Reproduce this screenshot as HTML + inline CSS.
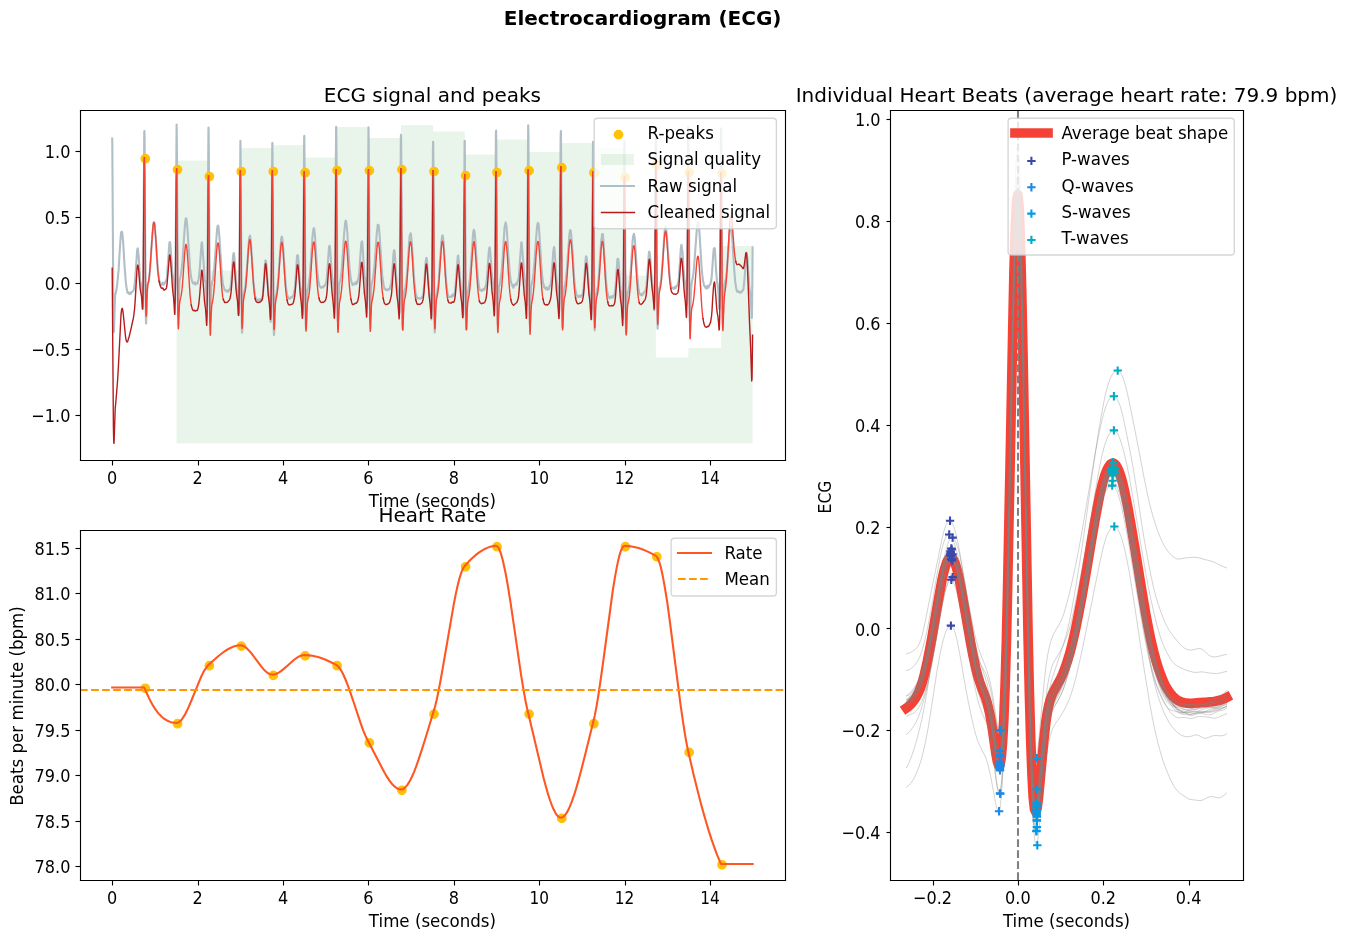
<!DOCTYPE html>
<html lang="en"><head><meta charset="utf-8"><title>Electrocardiogram (ECG)</title>
<style>
html,body{margin:0;padding:0;background:#fff}
body{width:1348px;height:941px;overflow:hidden}
svg{display:block;font-family:"DejaVu Sans","Liberation Sans",sans-serif}
</style></head><body>
<svg width="1348" height="941" viewBox="0 0 1348 941">
<rect x="0" y="0" width="1348" height="941" fill="#ffffff"/>
<path d="M80 460L785 460L785 110L80 110Z" fill="#ffffff"/>
<path d="M176.6 443.5L176.6 160.4L208.5 160.4L208.5 270.5L240.4 270.5L240.4 148L272.4 148L272.4 145.3L304.3 145.3L304.3 157.4L336.2 157.4L336.2 126.9L368.5 126.9L368.5 138.1L401 138.1L401 125.2L433.1 125.2L433.1 131.5L464.7 131.5L464.7 154.4L496.1 154.4L496.1 139.4L528.2 139.4L528.2 151.9L560.9 151.9L560.9 143.1L593 143.1L593 148L624.5 148L624.5 275.4L655.9 275.4L655.9 357.5L688.3 357.5L688.3 348L721.1 348L721.1 245.9L752.6 245.9L752.6 443.5Z" fill="#4caf50" fill-opacity="0.12"/>
<path d="M112.2 138.5L112.3 143.4L112.5 174.2L113.4 318.3L113.7 330.8L113.8 332.1L114 330.8L114.2 323.2L114.9 300.6L115.2 294.4L115.5 293.5L115.8 293.3L116 292L116.5 289L116.8 287.6L117.9 277.4L118.3 272.8L118.6 270.4L119 263.2L119.5 254.5L120.1 245.3L120.9 233.9L121.1 232.5L121.4 232L121.8 231.8L121.9 231.8L122 232L122.3 233.3L123.1 240.8L123.4 246.7L124.7 268.1L125.2 273.9L125.7 281.1L126.4 286.7L126.6 288.4L127 289.8L127.5 292.7L127.8 292.9L128.3 293L128.7 292.7L128.9 293.1L129.3 294L129.5 294L129.7 293.6L130.2 292.5L130.4 292.7L130.7 293.8L130.9 293.8L131.1 293.1L131.4 292.3L131.5 292.2L131.9 292.3L132.4 291.5L132.8 291.5L133 291.2L133.4 290.5L133.7 290.1L133.9 289.2L134.8 283.2L135.2 278.8L137.1 250.9L137.5 248.6L137.7 248.3L137.8 248.6L138 250.3L138.7 256.8L140.2 280.4L140.9 284.1L141.6 289.4L142.1 298.9L142.7 308.9L142.8 309L142.9 306.4L143.2 290.9L143.5 241.4L144.2 139.5L144.3 131.3L144.4 131L144.6 138.6L144.8 173.3L145.6 300.9L145.9 319.4L146 323.1L146.1 323.5L146.4 317L147 294.1L147.4 287L147.6 284.9L148.2 283L148.4 281.8L148.8 281.4L149.1 279.5L149.7 272.6L150.1 268.4L151.6 245.9L152.3 236L153.2 225.4L153.7 222.4L153.8 222.2L154.4 222.7L154.6 223.3L154.8 226L156.4 247L156.9 257.5L157.3 261L157.9 270.9L158.3 273.6L158.7 277L159.2 279.8L159.4 281.4L159.6 281.6L159.8 281.5L159.9 281.8L160.5 283.8L160.7 283.7L161 284.5L161.2 285.2L161.4 285L161.7 284.2L162 284.4L162.1 284.3L162.8 282.6L163 283.2L163.5 284.5L163.7 284.6L163.8 284.6L164.4 283.7L164.7 283.3L165.2 282.2L165.6 281.8L166 281L166.6 279.1L166.7 278.9L166.9 278.5L167.1 275.8L167.8 264.9L168.1 260.9L169.4 242.8L169.7 242L169.9 242.1L170.1 242.4L170.3 243.9L170.8 250.2L172 268L172.4 273.7L172.8 275.8L173.1 278.5L173.5 280.7L173.8 282.4L174 286.4L174.9 303.3L175.1 301.3L175.3 288.3L175.6 261.3L176.6 124.5L176.7 129.1L177 159.7L177.9 303.3L178.1 315.1L178.3 316.8L178.4 315.9L178.6 307.9L179.2 287.1L179.5 281.5L179.9 278.7L180.3 277.5L180.6 276.4L182.2 264.5L182.9 255.4L183.8 241.7L184.9 225.2L185.4 220.5L185.8 218.5L186.1 218.2L186.2 218.3L186.5 219.1L186.8 222L187.6 230.6L188.1 239.1L188.6 247L189.2 254.1L189.9 266.4L190.4 272L191.2 277.4L192 281L192.5 282.1L192.9 283.3L193 283.3L193.4 283.2L193.9 283.6L194.1 283.1L194.5 282.3L194.7 282.4L194.9 283.3L195.2 284.4L195.3 284.6L195.4 284.4L195.8 283L195.9 282.9L196.3 283.3L196.7 283L197 283.4L197.2 283.7L197.4 283.6L197.9 281.8L198.5 279.7L198.8 278.1L199.8 268.1L201.3 246L201.7 242.8L201.8 242.3L202 242.5L202.2 244.7L203.4 259.8L204.8 279.9L205 281.2L205.3 281.1L205.4 281.5L205.7 283.8L206.1 290.2L206.8 306.4L207 305.2L207.2 294.5L207.5 271.2L207.9 211.6L208.4 133.3L208.5 127.6L208.6 130.3L208.9 158.7L209.8 304.6L210 320L210.2 322.2L210.3 321.4L210.5 313.9L211.2 290.5L211.4 286.5L212.2 281.7L212.5 280.9L212.7 280.7L213 279.6L213.5 275.2L214.4 266.2L217.1 229.2L217.5 226.4L217.7 225.8L218.1 225.5L218.2 225.6L218.5 227L219.4 236.5L221.2 265L221.8 274.4L223 285.1L223.4 285.9L224 287.9L224.4 289.3L224.6 290.1L224.8 290.3L225 290.1L225.3 290L225.5 290.3L225.9 290.9L226 290.9L226.4 290.5L226.6 290.7L226.9 291.6L227.1 291.6L227.5 290.5L227.6 290.5L228 291.7L228.1 291.6L228.6 289.9L228.7 290L229.1 290.5L229.4 290.4L229.6 290.2L229.9 289.5L230.4 287.2L231.3 281.8L233.1 255.8L233.7 253.1L233.9 253.3L234.1 254.7L234.4 257.1L235 267.2L236.4 287.3L236.7 289.6L237.2 291.5L237.7 296.3L238 300.6L238.6 315.2L238.7 315.2L238.9 313.4L239.1 302.1L239.4 276.6L240.4 140.9L240.5 145.5L240.8 175.6L241.7 319L241.9 331.6L242.1 332.7L242.2 331.1L242.6 317.8L243.1 300.6L243.5 294.8L243.7 293.3L244.1 292.8L244.4 291.3L244.7 288.9L245 288.9L245.1 288.6L245.4 286.5L246.9 269.1L247.6 259.4L247.8 256.2L248.5 245.6L248.7 243.6L249.2 237.3L249.4 237.1L249.6 237.3L250 235.6L250.1 235.7L250.4 237.9L251.2 246.3L251.5 252.8L251.9 257.1L253.3 279.9L254 287.3L254.5 291.3L254.9 295.7L255.1 296.5L255.3 296.6L255.4 296.8L256 299L256.3 299.5L256.5 300.1L256.7 300.1L257 299.6L257.6 300.7L257.9 299.4L258.1 299.7L258.5 301.2L258.6 300.9L259 299.6L259.2 300.4L259.4 300.8L259.5 300.8L260 299.6L260.2 299.7L260.4 299.6L260.9 299L261.1 298.9L261.5 298.7L261.8 298.8L261.9 298.6L262.6 295.8L262.7 295.9L262.8 295.6L263.1 292.7L263.6 284.8L264 280.3L264.7 267.8L265.4 260.5L265.5 260.4L265.8 260.6L265.9 260.7L266 261.1L266.3 263.4L268.6 295.6L269.1 297.3L269.5 300.1L269.7 303.4L270.2 315.7L270.5 320.8L270.6 321.9L270.8 321.4L270.9 318.6L271.1 304.1L271.5 255.9L272.2 151.9L272.3 143.3L272.4 142.9L272.5 150.8L272.8 186.5L273.6 314.2L273.8 332.1L274 335.1L274.1 334.7L274.3 327.4L275 305.4L275.4 299.1L275.7 296.2L276.3 294.7L277.5 286.5L278.2 279.4L279.6 259.3L280.9 241.4L281.3 238.1L281.6 236.7L281.8 236.5L281.9 236.6L282.2 237.6L282.9 243.4L283.4 250.4L284.2 262.9L285 274.7L286 287.6L286.4 290L286.8 292.3L287.1 294.7L288.4 298.5L288.7 298.6L289.1 298.4L289.6 298.8L290.1 297.6L290.4 298L290.5 298.2L290.6 298.1L291.2 297.1L291.8 297.6L292 297.3L292.5 296.3L293 296L293.6 294.9L293.8 293.6L294.2 290.9L294.3 290.6L294.6 290.5L294.7 289.9L295 286.9L295.5 280.4L295.7 277.2L297 256.1L297.1 255.5L297.3 255.8L297.5 256.6L297.7 256.4L297.9 255.3L298 255.6L298.3 258.6L299.3 273.9L300.2 285.7L300.6 288.8L301 290.1L301.4 293.2L301.8 297.7L302.1 307L302.5 315.1L302.6 314.5L302.8 311.4L303 296.5L303.4 248.7L304.1 145.1L304.2 136.5L304.3 135.9L304.4 143.5L304.7 179.3L305.5 307.8L305.7 324.8L306 328.8L306.1 326.6L307.3 292.5L307.5 289.7L307.8 288.9L308 288.4L308.3 287.2L309.4 279.5L310.2 270.9L311.6 249.9L312.4 237.8L313.3 229.5L313.5 229.4L313.9 228.1L314 228.2L314.3 229.8L314.9 234.6L316.7 263.1L317.5 273.3L317.8 275.2L318.3 281.1L318.5 281.6L318.7 281.8L318.9 283.3L319.3 285.6L319.6 285.8L319.8 286L320.2 286.8L320.6 287.6L320.7 287.6L321.1 287.3L321.6 287.7L322.2 286.8L322.5 286.8L322.8 286.7L322.9 286.8L323.3 287.5L323.4 287.4L324 285.7L324.3 285.7L324.8 285.3L325.1 285.4L325.2 285.3L325.4 284.5L326 282.7L326.3 281.5L326.7 278.9L327.2 273.1L328.9 248.4L329.2 246.5L329.4 245.9L329.5 245.9L329.7 246L329.9 247L330.2 249.3L330.7 257.6L331.6 270.5L332 274.9L332.5 279.5L332.9 282.3L333.1 283.2L333.4 285.6L333.8 292.1L334.4 305.9L334.5 306.1L334.7 304L334.9 291.5L335.2 265.8L335.7 179.5L336.1 129.9L336.2 126.8L336.3 131.8L336.6 163L337.5 308.4L337.7 320.7L337.9 321.9L338 320.5L338.4 307.9L338.9 291.3L339.3 284.4L339.5 282.7L340.1 281.3L340.6 278.3L341.3 273L341.6 270.7L342.6 256.3L343.1 250.1L343.5 243.6L344 235L345.2 222.4L345.6 220.7L345.7 220.6L345.9 220.9L346.2 221.8L346.5 223.8L347.4 233.5L348 244.7L348.4 249.9L349.5 268.1L350 272.5L350.7 277.7L351.1 279.7L351.5 282.1L351.7 282.4L351.8 282.5L352.1 283.6L352.5 285.1L352.6 285L353.1 284.1L353.6 283.9L354.1 284.5L354.4 283.8L354.7 283.1L354.8 283.1L355.2 283.5L355.4 282.8L355.7 282.4L355.9 283.3L356.2 284.2L356.3 283.9L356.8 281.6L357.1 282.5L357.2 282.9L357.3 282.9L357.6 281.7L358 279.6L358.5 278L359 274.4L359.4 270.3L360.4 255.3L361.1 245.7L361.4 242.9L361.8 241.6L362 241.4L362.1 241.4L362.2 241.9L362.5 244.8L363.4 259.9L364.5 275.4L364.9 277.6L365.2 278.8L365.7 283.4L365.9 286.7L366.3 296.1L366.7 303.8L366.8 303.5L367 301.2L367.2 288.5L367.5 261.9L368.5 127.4L368.6 132L368.9 161.8L369.8 305L370 319.9L370.2 321.9L370.3 320.8L370.5 312.4L371.2 290L371.6 284.5L371.9 282.9L373 278.5L374.4 267L376.2 241.8L376.8 232.5L377.7 224.8L377.8 225L378.1 225.4L378.2 225.3L378.5 224.9L378.6 225.1L378.9 227L379.8 237.9L382.2 275.3L382.6 278.2L382.8 279.5L383.6 285.2L383.7 285.4L384 286.6L384.4 288.7L384.5 288.7L384.8 288.5L384.9 288.6L385.4 289.5L385.7 289.7L386 290.1L386.3 289.9L386.6 289.6L387.2 289.8L387.4 289.8L387.7 290.1L387.8 290.1L388.1 289.6L388.3 289.1L388.5 289.1L388.9 289.5L389.2 289.4L389.5 289.3L389.8 288.7L390.5 285.4L390.8 285.4L390.9 285.3L391.2 284.3L391.5 281.1L392.1 274.5L393.5 253.8L394 250.6L394.2 250.1L394.4 250.5L394.6 252.4L395 257L396.9 284.8L398.2 293.2L398.6 301.1L399.1 312.5L399.2 313.6L399.4 313.2L399.5 310.5L399.7 295.4L400.1 244.7L400.8 142.5L400.9 134.9L401 135L401.2 143L401.4 178.3L402.2 306.8L402.4 325L402.6 328.5L402.7 328.9L402.8 326.9L403.2 312.6L403.6 299L404 293.7L404.4 290.9L404.6 290.1L404.9 289.7L405.3 287.9L405.8 285L406.4 279.8L406.7 277.5L407.3 268.8L407.6 266L409.1 242.1L409.7 235.7L410 234.9L410.3 234.3L410.6 233.2L410.8 233.5L411 235L411.7 241L412.3 249.8L414.2 280.5L414.6 283.7L414.9 285.7L415.5 292.5L416 294.4L416.4 296L416.8 296.8L417.2 298L417.6 298.4L417.8 298.5L417.9 298.5L418.6 298L419 298.1L419.2 298.2L419.6 298.7L419.9 298.6L420.1 298.5L420.5 298.4L421 297.9L421.4 298.1L421.7 297.6L422 296.8L422.4 296.5L422.9 295.3L423.2 294.2L423.6 291.2L424.1 285.6L425 272.8L425.6 262.5L426 259.3L426.4 257.7L426.5 257.7L426.6 258L426.9 259.8L427.3 265.4L428.2 278.7L429 290.2L429.3 293L429.7 295.1L430.5 301.6L430.7 306.3L431.3 318.7L431.4 319.4L431.5 318.2L431.8 309.6L432 289.7L432.4 232L432.9 149.7L433.1 141.8L433.2 141.8L433.3 149.5L433.6 184.8L434.3 313.1L434.6 329.5L434.7 332.4L434.8 332.3L435.1 325.7L435.7 302.5L436.1 296.2L436.4 294.6L436.8 293.6L437.7 289L438.2 284.8L438.4 283.5L438.7 281.1L439.8 263.9L441.4 241.8L441.8 238.1L442.1 236.1L442.4 235.4L442.5 235.3L442.8 236L443.3 239L443.7 243.6L445.5 271.7L446.1 280.3L447.1 290.3L447.8 294.6L448.3 295.8L448.7 296.9L449.2 296.8L449.6 297.1L449.8 296.9L450.1 296.6L450.3 296.7L450.9 296.9L451.8 296.7L452 295.8L452.3 294.7L452.4 294.6L452.7 295.4L452.9 296.1L453 296.1L453.4 295.5L453.8 295.6L454.1 295L454.7 292.9L455.7 284.4L457.4 260.3L457.9 255.9L458 255.6L458.2 255.9L458.4 257.4L458.8 261.4L459.6 272.7L460.1 279.8L460.5 284.4L461 291.6L461.1 291.8L461.4 291L461.5 291.2L461.7 294L462.6 310.2L462.9 315L463 315.2L463.2 313L463.4 299.4L463.7 271.6L464.6 141.1L464.7 140.8L464.8 148.5L465.1 183.7L465.8 310.7L466.1 327L466.2 329.4L466.4 328.7L466.6 321.5L467.4 295.1L467.6 292L467.9 291.2L468.2 290.2L468.8 286.7L469 285.5L469.8 278.8L470.5 271.6L471.2 260.7L473.1 233.6L473.5 230.7L473.8 229.9L473.9 229.8L474 229.9L474.3 230.6L474.6 232.2L475.2 238.6L475.7 245.8L477.4 271.5L477.9 277.5L478.9 286.3L479.7 289.7L479.9 290.2L480.2 290L480.4 290L481.3 290.8L481.6 291L481.7 290.9L482.1 289.6L482.2 289.6L482.6 290.2L482.9 289.7L483.1 289.3L483.5 290.1L483.7 289.9L484 288.7L484.2 288.8L484.4 289.5L484.5 289.6L484.8 288.6L485.2 287L486 285.3L486.2 284.1L487.1 276.2L488.1 261.1L488.8 251.2L489.2 248.7L489.5 247.4L489.7 247.5L489.8 247.9L490.1 250.1L491.1 262.8L491.6 271.9L492.6 281.5L493.3 284.9L493.6 291.1L494.3 305.1L494.4 305.8L494.5 304.4L494.8 293.1L495.1 268.1L495.6 183.2L495.9 133.4L496.1 130.5L496.2 135.7L496.5 167.2L497.4 310.8L497.6 323.2L497.7 324.1L497.9 322.6L498.3 309.9L498.8 292.1L499 287.4L499.3 285.7L499.7 285.1L500 282.9L500.8 278.3L501.3 273.4L501.6 271.8L502 266.9L504.5 228L504.8 226.1L505.2 224.4L505.6 222.4L505.7 222.5L506.3 225.5L506.6 227.8L507.6 241.6L508.2 252.9L509.8 273.4L510.2 276.2L510.7 281.1L511.6 283.8L511.8 284.5L512.2 286L512.3 285.9L512.7 284.5L512.9 284.9L513.2 287.6L513.4 287.7L513.9 285.3L514.3 286.2L514.4 286.1L514.8 285.3L515 285.1L515.4 284.1L515.5 284.2L515.8 284.9L515.9 284.9L516.2 283.7L516.4 283L516.8 284.4L517 284.1L517.5 281.2L517.7 281.6L517.9 281.4L518.8 277.2L521.2 243.3L521.4 242.2L521.6 242.4L521.8 244L522.3 249.5L524.3 276L525 281.1L525.3 282.1L525.5 284.8L525.9 293.6L526.4 305.8L526.6 305.4L526.7 302.8L526.9 289.2L527.2 262.9L528.2 125.3L528.4 130.2L528.6 161.1L529.5 308L529.8 322.8L529.9 324.5L530 323L530.4 309.4L530.9 292.5L531.3 285.8L531.6 284.7L531.8 283.8L532.3 281.2L532.6 280.4L533.6 272.7L534.3 263.4L534.5 261.3L534.9 255.8L536.6 231.8L537.2 225.4L537.7 223.1L537.8 222.9L538 222.9L538.4 223.6L538.6 224.5L538.9 227.1L540.7 254.9L541.4 266.9L542.2 276.1L543.1 283.3L543.5 284L544.1 287L544.4 287.2L544.9 288.2L545.3 288.1L545.8 289.1L546.3 287.4L546.5 288.4L546.8 289.3L546.9 289.2L547.2 288.8L547.3 288.9L547.7 289.7L547.8 289.4L548.3 287.7L548.5 287.8L548.9 288.9L549 288.8L549.2 287.7L549.6 285.8L549.8 285.7L550 286.1L550.1 286.1L550.4 284.9L550.8 283L551 281.9L551.3 279.6L552.7 260.3L553.2 252.2L553.9 248L554.1 247L554.2 247.3L554.5 249.6L555.5 263L556.5 279L557.1 283.6L557.6 287.2L558.2 293.1L558.6 302.9L559 311.1L559.1 311.4L559.2 310.1L559.5 301.2L559.7 279.7L560.1 220.7L560.6 139.6L560.8 131.3L560.9 131L561 138.9L561.3 174.5L562 304.9L562.3 324.1L562.4 327.3L562.6 327L562.8 320.1L563.6 293.7L563.8 290.1L564.6 285.8L564.7 285.7L565 286L565.1 285.6L565.5 282.2L566.9 269.2L569.4 234.3L569.7 232.2L570.1 230.1L570.2 230L570.5 230.4L570.8 231L571 232.6L571.9 241.2L573.1 260.7L574 275.3L574.3 280.1L574.9 285.1L575.2 288.4L576.3 293.7L576.9 295.3L577.3 296L577.7 296.6L578.2 297L578.4 296.6L578.7 296.1L578.8 296.3L579.1 296.9L579.2 296.9L579.5 296.1L579.7 295.6L580.4 296.5L580.5 296.5L580.9 296.7L581.1 295.9L581.4 295.1L581.5 295.2L581.8 295.9L581.9 295.9L582.7 294L583.2 290.2L583.4 290L583.6 289.3L583.8 285.6L584.2 279.7L584.6 275.6L585.2 265L585.6 260L585.9 256.8L586 256.3L586.1 256.3L586.6 257.3L586.9 259.6L589.1 289.7L590.2 298.2L590.6 305.4L591.3 319.4L591.4 319.6L591.5 317.4L591.8 304.1L592 277.5L593 141.8L593.2 146.9L593.4 177.9L594.3 318.6L594.6 329.6L594.7 330.4L594.8 328.7L595.2 314.5L595.6 301.1L596 294.6L596.3 293.1L596.6 292.7L596.9 291.1L597.3 288.5L597.7 287.9L597.9 286.3L598.8 276.3L599.8 262.3L600.7 247.7L601.2 240.8L601.8 236.7L602 234.6L602.1 234.2L602.5 234.6L602.8 234.2L602.9 234.3L603 235L603.4 240.2L604.8 261.5L605.6 275.2L606.8 289.1L607 290.9L607.4 291.8L608.3 296.4L608.5 296.9L609.1 298.1L609.2 298.1L609.4 297.5L609.7 296.9L609.8 296.9L610.1 297.6L610.3 298.2L610.5 298.1L610.7 297.3L611 296.5L611.1 296.3L611.2 296.5L611.6 297.2L611.8 297.2L612.3 296.4L612.5 297.1L612.8 297.6L612.9 297.4L613.4 295.9L613.8 295.9L614.1 295.5L614.6 294.1L615 291.9L615.5 287.6L616 280.7L617.4 259.8L617.6 258.7L618 259L618.2 259L618.3 259.2L618.4 259.8L618.7 262.7L620.6 290.8L620.8 291.4L621 291.5L621.1 291.9L621.4 294.4L622.1 304.2L622.8 318.5L622.9 317.7L623 314.3L623.3 298.3L623.7 248.5L624.3 147.6L624.4 141.1L624.6 143.3L624.8 171.3L625.7 317.8L626 331.5L626.1 332.9L626.2 331.5L626.6 318L627.1 300.9L627.5 293.6L627.8 291.9L627.9 292L628.1 292.4L628.3 291.9L628.9 287.9L629.2 286.9L629.6 283.3L630.7 270.1L632.6 240.9L633.1 236L633.9 233.8L634 233.9L634.4 236L634.7 237.6L634.9 240.8L635.6 249.7L636 256.2L636.5 264.4L636.9 270.2L637.4 277.9L638.3 287.1L639.4 293.9L639.7 294.4L640.1 293.9L640.2 294.1L640.7 295.1L641.2 295.2L641.3 295.1L641.9 293.9L642.4 295.2L642.6 294.2L642.9 293.2L643 293.2L643.4 293.6L643.6 293.3L644 292.5L645.3 291.1L645.7 289.5L646.5 285.7L647.7 269.7L648.8 254L649 251.9L649.3 251.6L649.5 252L649.8 253L650.1 255.3L650.6 263.7L651.2 272.6L652 282.6L652.7 287.3L653.1 290.2L653.4 291.9L653.6 296.8L654.2 310.2L654.3 310.3L654.4 308.3L654.7 297L654.9 272.8L655.4 187.6L655.8 140.5L655.9 137.5L656.1 141.8L656.3 171.2L657.2 313L657.5 326.5L657.6 328.6L657.7 328L658 320.6L658.6 297.5L659 290.3L659.3 288.7L660 286.1L660.2 285.7L660.4 284L660.8 281.3L661.1 280.6L661.3 278.2L662 269L662.4 264L664.7 230.2L665.3 226.4L665.4 226.3L665.8 226.7L665.9 227L666.2 228.5L667.1 238.4L669.5 274.2L670 279.9L670.8 284.5L671.4 287.1L671.8 287.8L672.2 287.9L672.5 288L673 288.6L673.5 288.2L673.9 288.9L674 288.7L674.4 287L674.5 287.1L674.9 288.5L675 288.3L675.4 286.8L675.7 287.7L675.8 288.1L675.9 288L676.4 286L676.8 286.5L677.3 284.9L677.6 285.1L677.7 284.9L678.7 279.6L679.9 262.9L680.7 249.9L681.1 246.3L681.3 245L681.4 244.9L681.6 245.2L681.8 247.1L682.2 250L682.5 251.4L682.7 254.7L683.5 268.4L684.4 278.4L685.4 284.9L685.7 288.6L686.6 304.9L686.7 303.2L686.9 291.7L687.2 267.9L687.6 208.6L688.1 132.2L688.2 126.9L688.4 129.5L688.6 155.7L689.6 313.1L689.9 322.5L690 322.5L690.3 316.5L691 290.9L691.4 285L691.8 282.1L692.7 278L693.6 272L694 268L696.3 236.2L697.1 226L697.4 223.6L698 221.9L698.1 221.8L698.2 222L698.5 223.2L699 227.1L699.4 231.8L700.3 246.4L701.5 266L702.3 275.3L702.7 278L703.1 281.3L703.6 283.2L704 285.6L704.2 285.9L704.4 285.9L704.9 286.7L705 286.7L705.1 286.8L705.6 288.1L706 286.5L706.2 286.6L706.5 288.7L706.7 288.4L707.1 286.1L707.2 286.1L707.4 286.8L707.6 286.7L708 285.8L708.2 287L708.5 287.7L708.7 286.6L709 285.8L709.4 285.6L709.9 284.5L710.1 284.6L710.3 284.5L710.5 283.6L711.3 280L711.8 275.6L712.4 267L713.3 253.6L713.8 248.6L714 248.2L714.1 248.2L714.2 248.3L714.6 248L714.7 248.5L715 251.7L716 268.8L717 282.1L717.3 283.4L717.6 284.4L718.2 289.4L718.5 293.2L719.2 308.1L719.4 309.1L719.5 308.5L719.6 305.5L719.9 289.4L720.3 238.3L720.9 136.7L721 128.6L721.1 128.2L721.3 135.9L721.5 171.2L722.3 300L722.6 318.8L722.8 323.1L722.9 321.1L723.5 302.6L724 288.5L724.2 285.4L724.5 284.7L724.6 284.6L724.7 284.4L725 283.1L725.5 280.2L725.9 279.2L726.1 277.6L726.7 271.9L727.7 258.9L729.5 233.2L730.1 226.6L730.2 226.4L730.5 226.4L730.9 225.9L731 226.2L731.4 228.4L731.8 231.3L732.2 237.6L732.8 247.5L734.5 273.3L735.2 281.6L735.5 283.2L736 287.5L736.6 289.7L737 291.6L737.2 291.6L737.5 291L737.7 291.1L738.1 292L738.2 292L738.6 291.4L738.7 291.5L739.1 292.3L739.2 292.2L739.5 291.9L739.6 292L740 292.8L740.1 292.7L740.5 291.9L740.7 292.3L741 292.5L741.4 291.9L741.8 292L742 291.4L742.3 290.6L742.5 290.4L742.8 290.4L743.1 290.1L743.3 289.4L743.6 287.7L744.5 279.2L746 256.9L746.5 252.9L746.6 252.7L746.9 254.1L747.5 258.9L749.2 286L750.5 295.5L750.9 301.6L751.8 318L751.9 316.7L752.1 305.5L752.4 279.7L752.6 247.4L752.6 247.4" fill="none" stroke="#b0bec5" stroke-width="2.083" stroke-linecap="square" stroke-linejoin="round"/>
<path d="M112.5 460.5L112.5 465.5" fill="#000000" stroke="#000000" stroke-width="1.111" stroke-linejoin="round"/>
<text font-size="16.67" text-anchor="middle" transform="translate(112.2 483.7) scale(0.965 1.08)">0</text>
<path d="M198.5 460.5L198.5 465.5" fill="#000000" stroke="#000000" stroke-width="1.111" stroke-linejoin="round"/>
<text font-size="16.67" text-anchor="middle" transform="translate(197.6 483.7) scale(0.965 1.08)">2</text>
<path d="M283.5 460.5L283.5 465.5" fill="#000000" stroke="#000000" stroke-width="1.111" stroke-linejoin="round"/>
<text font-size="16.67" text-anchor="middle" transform="translate(283 483.7) scale(0.965 1.08)">4</text>
<path d="M368.5 460.5L368.5 465.5" fill="#000000" stroke="#000000" stroke-width="1.111" stroke-linejoin="round"/>
<text font-size="16.67" text-anchor="middle" transform="translate(368.4 483.7) scale(0.965 1.08)">6</text>
<path d="M454.5 460.5L454.5 465.5" fill="#000000" stroke="#000000" stroke-width="1.111" stroke-linejoin="round"/>
<text font-size="16.67" text-anchor="middle" transform="translate(453.8 483.7) scale(0.965 1.08)">8</text>
<path d="M539.5 460.5L539.5 465.5" fill="#000000" stroke="#000000" stroke-width="1.111" stroke-linejoin="round"/>
<text font-size="16.67" text-anchor="middle" transform="translate(539.2 483.7) scale(0.92 1.08)">10</text>
<path d="M625.5 460.5L625.5 465.5" fill="#000000" stroke="#000000" stroke-width="1.111" stroke-linejoin="round"/>
<text font-size="16.67" text-anchor="middle" transform="translate(624.6 483.7) scale(0.92 1.08)">12</text>
<path d="M710.5 460.5L710.5 465.5" fill="#000000" stroke="#000000" stroke-width="1.111" stroke-linejoin="round"/>
<text font-size="16.67" text-anchor="middle" transform="translate(710 483.7) scale(0.92 1.08)">14</text>
<text font-size="16.67" text-anchor="middle" transform="translate(432.4 507.3) scale(1 1.08)">Time (seconds)</text>
<path d="M80.5 415.5L75.5 415.5" fill="#000000" stroke="#000000" stroke-width="1.111" stroke-linejoin="round"/>
<text font-size="16.67" text-anchor="end" transform="translate(70.4 421.7) scale(0.965 1.08)">−1.0</text>
<path d="M80.5 349.5L75.5 349.5" fill="#000000" stroke="#000000" stroke-width="1.111" stroke-linejoin="round"/>
<text font-size="16.67" text-anchor="end" transform="translate(70.4 355.7) scale(0.965 1.08)">−0.5</text>
<path d="M80.5 283.5L75.5 283.5" fill="#000000" stroke="#000000" stroke-width="1.111" stroke-linejoin="round"/>
<text font-size="16.67" text-anchor="end" transform="translate(70.4 289.7) scale(0.965 1.08)">0.0</text>
<path d="M80.5 217.5L75.5 217.5" fill="#000000" stroke="#000000" stroke-width="1.111" stroke-linejoin="round"/>
<text font-size="16.67" text-anchor="end" transform="translate(70.4 223.7) scale(0.965 1.08)">0.5</text>
<path d="M80.5 151.5L75.5 151.5" fill="#000000" stroke="#000000" stroke-width="1.111" stroke-linejoin="round"/>
<text font-size="16.67" text-anchor="end" transform="translate(70.4 157.7) scale(0.965 1.08)">1.0</text>
<circle cx="145.3" cy="158.7" r="4.17" fill="#ffc107" stroke="#ffc107" stroke-width="1.389" stroke-linejoin="round"/>
<circle cx="177.5" cy="169.6" r="4.17" fill="#ffc107" stroke="#ffc107" stroke-width="1.389" stroke-linejoin="round"/>
<circle cx="209.4" cy="176.5" r="4.17" fill="#ffc107" stroke="#ffc107" stroke-width="1.389" stroke-linejoin="round"/>
<circle cx="241.3" cy="171.5" r="4.17" fill="#ffc107" stroke="#ffc107" stroke-width="1.389" stroke-linejoin="round"/>
<circle cx="273.3" cy="171.5" r="4.17" fill="#ffc107" stroke="#ffc107" stroke-width="1.389" stroke-linejoin="round"/>
<circle cx="305.2" cy="172.7" r="4.17" fill="#ffc107" stroke="#ffc107" stroke-width="1.389" stroke-linejoin="round"/>
<circle cx="337.1" cy="170.5" r="4.17" fill="#ffc107" stroke="#ffc107" stroke-width="1.389" stroke-linejoin="round"/>
<circle cx="369.4" cy="170.6" r="4.17" fill="#ffc107" stroke="#ffc107" stroke-width="1.389" stroke-linejoin="round"/>
<circle cx="401.9" cy="169.6" r="4.17" fill="#ffc107" stroke="#ffc107" stroke-width="1.389" stroke-linejoin="round"/>
<circle cx="434" cy="171.5" r="4.17" fill="#ffc107" stroke="#ffc107" stroke-width="1.389" stroke-linejoin="round"/>
<circle cx="465.6" cy="175.6" r="4.17" fill="#ffc107" stroke="#ffc107" stroke-width="1.389" stroke-linejoin="round"/>
<circle cx="497" cy="172.5" r="4.17" fill="#ffc107" stroke="#ffc107" stroke-width="1.389" stroke-linejoin="round"/>
<circle cx="529.1" cy="170.6" r="4.17" fill="#ffc107" stroke="#ffc107" stroke-width="1.389" stroke-linejoin="round"/>
<circle cx="561.8" cy="167.7" r="4.17" fill="#ffc107" stroke="#ffc107" stroke-width="1.389" stroke-linejoin="round"/>
<circle cx="593.9" cy="172.7" r="4.17" fill="#ffc107" stroke="#ffc107" stroke-width="1.389" stroke-linejoin="round"/>
<circle cx="625.4" cy="177.5" r="4.17" fill="#ffc107" stroke="#ffc107" stroke-width="1.389" stroke-linejoin="round"/>
<circle cx="656.8" cy="164.8" r="4.17" fill="#ffc107" stroke="#ffc107" stroke-width="1.389" stroke-linejoin="round"/>
<circle cx="689.2" cy="172.5" r="4.17" fill="#ffc107" stroke="#ffc107" stroke-width="1.389" stroke-linejoin="round"/>
<circle cx="722" cy="173.6" r="4.17" fill="#ffc107" stroke="#ffc107" stroke-width="1.389" stroke-linejoin="round"/>
<path d="M80.5 460.5L80.5 110.5" fill="none" stroke="#000000" stroke-width="1.111" stroke-linecap="square"/>
<path d="M785.5 460.5L785.5 110.5" fill="none" stroke="#000000" stroke-width="1.111" stroke-linecap="square"/>
<path d="M80.5 460.5L785.5 460.5" fill="none" stroke="#000000" stroke-width="1.111" stroke-linecap="square"/>
<path d="M80.5 110.5L785.5 110.5" fill="none" stroke="#000000" stroke-width="1.111" stroke-linecap="square"/>
<path d="M112.2 268.2L112.8 349.1L113.4 427.1L113.7 440.6L113.8 443.1L114 443.3L114.2 438.5L115.2 408.6L115.8 402.2L116.8 390.8L117.7 378.7L118.6 363L121 314.9L121.5 310.4L121.9 308.7L122.2 308.3L122.3 308.4L122.5 309L122.9 311L123.4 315.4L125.6 337.2L126.1 340.1L126.5 341.3L126.9 341.9L127.2 342L127.4 341.9L127.7 341.6L128 340.4L129.1 336.7L129.6 334.8L130.5 331L131.1 328.4L132.5 322L133.4 317.9L133.9 314.5L134.6 308.6L135.2 300.4L136.1 284.9L137 269.8L137.4 266.3L137.7 265.2L137.8 265.1L137.9 265.2L138.2 266.3L138.6 269.4L139.2 277.3L140.1 288.1L140.6 291.7L141.4 295.7L141.8 299.7L142.5 309L142.7 308.2L142.9 300.9L143.2 283.7L143.5 239.4L144.2 163.9L144.4 157.9L144.4 157.9" fill="none" stroke="#b71c1c" stroke-width="1.389" stroke-linecap="square" stroke-linejoin="round"/>
<path d="M144.4 157.9L144.5 161.3L144.7 169.7L144.8 182.5L144.9 198.6L145 216.7L145.2 235.6L145.3 254.1L145.4 271.1L145.6 285.7L145.7 297.6L145.8 306.5L145.9 312.4L146.1 315.6L146.2 316.3L146.3 315.2L146.5 312.7L146.6 309.4L146.7 305.6L146.8 301.8L147 298.2L147.1 295.1L147.2 292.3L147.3 290.1L147.5 288.3L147.6 286.9L147.7 285.7L147.9 284.8L148 284.1L148.1 283.5L148.2 282.9L148.4 282.4L148.5 281.8L148.6 281.2L148.8 280.5L148.9 279.7L149 278.7L149.1 277.6L149.3 276.5L149.4 275.2L149.5 273.8L149.7 272.5L149.8 271.1L149.9 269.6L150 268.1L150.2 266.5L150.3 264.9L150.4 263.1L150.6 261.4L150.7 259.5L150.8 257.7L150.9 255.8L151.1 253.8L151.2 251.9L151.3 249.9L151.4 247.9L151.6 245.9L151.7 243.9L151.8 241.9L152 239.9L152.1 238L152.2 236.2L152.3 234.5L152.5 232.8L152.6 231.2L152.7 229.7L152.9 228.3L153 227L153.1 225.9L153.2 224.9L153.4 224.1L153.5 223.5L153.6 223L153.8 222.7L153.9 222.5L154 222.5L154.1 222.7L154.3 223L154.4 223.5L154.5 224.2L154.7 225.2L154.8 226.3L154.9 227.6L155 229.1L155.2 230.7L155.3 232.3L155.4 234L155.5 235.6L155.7 237.3L155.8 239.1L155.9 241L156.1 243L156.2 245.1L156.3 247.4L156.4 249.7L156.6 251.9L156.7 254.2L156.8 256.3L157 258.3L157.1 260.2L157.2 262.1L157.3 263.9L157.5 265.7L157.6 267.4L157.7 269.1L157.9 270.7L158 272.1L158.1 273.4L158.2 274.6L158.4 275.7L158.5 276.8L158.6 277.7L158.8 278.7L158.9 279.6L159 280.4L159.1 281.2" fill="none" stroke="#f44336" stroke-width="1.389" stroke-linecap="square" stroke-linejoin="round"/>
<path d="M159.1 281.2L159.6 283.6L160.5 286.5L161.1 287.7L161.4 288.2L161.7 288.3L162.1 288.1L162.6 287.9L162.8 288.1L163.2 288.9L163.7 289.9L164 290.1L164.4 290L165.7 289.1L166.2 288.4L166.6 287.4L166.8 286.1L167.2 282.4L169.4 256L169.6 254.9L169.8 254.8L169.9 254.9L170.2 256.1L170.5 259.7L171.2 268.9L172.5 288.1L173.1 293.6L173.6 298L174 303.4L174.6 314L174.8 314.4L174.9 313.3L175.1 305L175.4 286.7L175.9 224.2L176.3 180L176.6 168.7L176.6 168.8L176.6 168.8" fill="none" stroke="#b71c1c" stroke-width="1.389" stroke-linecap="square" stroke-linejoin="round"/>
<path d="M176.6 168.8L176.7 172.5L176.9 181.2L177 194.2L177.1 210.6L177.2 229.1L177.4 248.2L177.5 266.8L177.6 283.9L177.8 298.5L177.9 310.3L178 319.1L178.1 324.9L178.3 328.1L178.4 328.8L178.5 327.8L178.6 325.4L178.8 322.1L178.9 318.5L179 314.8L179.2 311.4L179.3 308.5L179.4 306.1L179.5 304.2L179.7 302.8L179.8 301.8L179.9 301L180.1 300.3L180.2 299.8L180.3 299.3L180.4 298.8L180.6 298.2L180.7 297.7L180.8 297.1L181 296.4L181.1 295.8L181.2 295.1L181.3 294.3L181.5 293.5L181.6 292.7L181.7 291.8L181.9 290.8L182 289.7L182.1 288.5L182.2 287.2L182.4 285.8L182.5 284.3L182.6 282.7L182.7 281L182.9 279.3L183 277.5L183.1 275.7L183.3 273.9L183.4 272L183.5 270.1L183.6 268.2L183.8 266.3L183.9 264.4L184 262.5L184.2 260.6L184.3 258.8L184.4 257.1L184.5 255.4L184.7 253.7L184.8 252.2L184.9 250.7L185.1 249.4L185.2 248.2L185.3 247.2L185.4 246.3L185.6 245.6L185.7 245L185.8 244.6L185.9 244.4L186.1 244.4L186.2 244.6L186.3 245L186.5 245.6L186.6 246.4L186.7 247.3L186.8 248.4L187 249.6L187.1 250.9L187.2 252.4L187.4 253.9L187.5 255.6L187.6 257.4L187.7 259.3L187.9 261.2L188 263.3L188.1 265.3L188.3 267.4L188.4 269.4L188.5 271.4L188.6 273.4L188.8 275.3L188.9 277.2L189 279.2L189.2 281.2L189.3 283.2L189.4 285.2L189.5 287.2L189.7 289.2L189.8 291.1L189.9 292.8L190 294.4L190.2 295.9L190.3 297.3L190.4 298.6L190.6 299.7L190.7 300.8L190.8 301.8L190.9 302.7L191.1 303.5L191.2 304.3L191.3 305.1" fill="none" stroke="#f44336" stroke-width="1.389" stroke-linecap="square" stroke-linejoin="round"/>
<path d="M191.3 305.1L192 308L192.6 309.7L193.1 310.5L193.5 310.7L193.8 310.7L194.5 310.3L194.8 310.5L195.3 311.1L195.6 311L196.2 310.5L196.6 310.5L197.1 310.5L197.4 310.2L197.7 309.3L198.2 307.4L198.6 305.3L199.1 301.1L199.8 294L201.6 270.8L201.8 270.1L202 270.2L202.2 271.5L202.6 275.3L203.5 287.3L204.5 301.2L205 305.1L205.5 308.4L205.9 313.6L206.6 325L206.7 325.4L206.8 324.2L207.1 315.5L207.3 296.8L207.9 233.4L208.2 187.7L208.5 175.7L208.5 175.7L208.5 175.7" fill="none" stroke="#b71c1c" stroke-width="1.389" stroke-linecap="square" stroke-linejoin="round"/>
<path d="M208.5 175.7L208.7 179.4L208.8 188.2L208.9 201.3L209.1 217.8L209.2 236.2L209.3 255.3L209.4 273.8L209.6 290.8L209.7 305.3L209.8 317.1L209.9 325.8L210.1 331.6L210.2 334.6L210.3 335.2L210.5 334L210.6 331.4L210.7 328L210.8 324.2L211 320.4L211.1 316.8L211.2 313.7L211.4 311.1L211.5 309.1L211.6 307.4L211.7 306.1L211.9 305L212 304.1L212.1 303.4L212.3 302.7L212.4 302.1L212.5 301.5L212.6 301L212.8 300.3L212.9 299.7L213 298.9L213.1 298L213.3 296.9L213.4 295.8L213.5 294.7L213.7 293.4L213.8 292.1L213.9 290.7L214 289.3L214.2 287.8L214.3 286.2L214.4 284.6L214.6 282.9L214.7 281.2L214.8 279.4L214.9 277.5L215.1 275.7L215.2 273.8L215.3 271.8L215.5 269.8L215.6 267.8L215.7 265.8L215.8 263.8L216 261.7L216.1 259.7L216.2 257.7L216.4 255.8L216.5 253.9L216.6 252.2L216.7 250.6L216.9 249.2L217 247.9L217.1 246.7L217.2 245.8L217.4 244.9L217.5 244.2L217.6 243.7L217.8 243.3L217.9 243.1L218 243L218.1 243.2L218.3 243.5L218.4 244L218.5 244.7L218.7 245.6L218.8 246.6L218.9 247.8L219 249.1L219.2 250.5L219.3 252L219.4 253.7L219.6 255.4L219.7 257.2L219.8 259.1L219.9 261.1L220.1 263L220.2 265.1L220.3 267.1L220.5 269.1L220.6 271L220.7 273L220.8 274.9L221 276.8L221.1 278.7L221.2 280.6L221.3 282.4L221.5 284.2L221.6 285.9L221.7 287.5L221.9 289L222 290.4L222.1 291.8L222.2 293L222.4 294.2L222.5 295.3L222.6 296.3L222.8 297.2L222.9 297.9L223 298.4L223.1 298.9L223.3 299.3" fill="none" stroke="#f44336" stroke-width="1.389" stroke-linecap="square" stroke-linejoin="round"/>
<path d="M223.3 299.3L224.4 302L224.8 302.5L225.2 302.5L227 302.4L228.1 301.5L229 300.4L229.4 300L229.7 299.5L230.1 298.1L230.7 294.8L231.1 291.9L231.6 286L232.5 272.6L233 265.6L233.4 262.7L233.6 262L233.8 262L233.9 262.2L234.2 263.6L234.5 267.5L235.3 279.2L236.1 289.9L236.6 294.6L237.5 301L237.9 306.4L238.4 314.6L238.5 315.4L238.6 314.8L238.8 312.6L239 301.6L239.4 265.9L240.2 176.5L240.4 170.7L240.4 170.7" fill="none" stroke="#b71c1c" stroke-width="1.389" stroke-linecap="square" stroke-linejoin="round"/>
<path d="M240.4 170.7L240.5 174.1L240.6 182.5L240.8 195.2L240.9 211.2L241 229.2L241.2 248.1L241.3 266.5L241.4 283.5L241.5 298.2L241.7 310L241.8 318.9L241.9 324.7L242.1 327.8L242.2 328.5L242.3 327.4L242.4 324.9L242.6 321.6L242.7 317.8L242.8 314L243 310.4L243.1 307.2L243.2 304.5L243.3 302.3L243.5 300.6L243.6 299.3L243.7 298.2L243.9 297.5L244 296.8L244.1 296.2L244.2 295.6L244.4 295L244.5 294.4L244.6 293.8L244.7 293.2L244.9 292.6L245 292L245.1 291.3L245.3 290.5L245.4 289.6L245.5 288.6L245.6 287.5L245.8 286.2L245.9 284.9L246 283.5L246.2 282L246.3 280.4L246.4 278.8L246.5 277.1L246.7 275.4L246.8 273.6L246.9 271.8L247.1 270L247.2 268.1L247.3 266.2L247.4 264.3L247.6 262.4L247.7 260.5L247.8 258.5L247.9 256.5L248.1 254.6L248.2 252.7L248.3 250.9L248.5 249.2L248.6 247.6L248.7 246.2L248.8 244.8L249 243.6L249.1 242.6L249.2 241.7L249.4 240.9L249.5 240.3L249.6 239.9L249.7 239.7L249.9 239.6L250 239.7L250.1 240L250.3 240.5L250.4 241.2L250.5 242.1L250.6 243.2L250.8 244.6L250.9 246.1L251 247.7L251.2 249.4L251.3 251.2L251.4 253L251.5 254.8L251.7 256.7L251.8 258.6L251.9 260.5L252 262.4L252.2 264.4L252.3 266.4L252.4 268.5L252.6 270.5L252.7 272.5L252.8 274.5L252.9 276.4L253.1 278.3L253.2 280.2L253.3 281.9L253.5 283.6L253.6 285.2L253.7 286.6L253.8 288L254 289.3L254.1 290.5L254.2 291.7L254.4 292.8L254.5 294L254.6 295L254.7 296L254.9 296.9L255 297.7L255.1 298.4" fill="none" stroke="#f44336" stroke-width="1.389" stroke-linecap="square" stroke-linejoin="round"/>
<path d="M255.1 298.4L255.6 300.2L256.3 301.7L256.7 302.1L257.4 302.4L258.2 302.5L258.6 302.6L259.6 302.4L260.2 301.8L261.1 301.2L261.5 300.9L261.8 300.5L262.2 299.6L262.6 298L262.9 295.2L263.4 289.2L265.2 265.2L265.5 263.9L265.6 263.7L265.8 263.8L266 264.9L266.4 268.5L267 277.5L268.2 293.8L268.7 298.3L269.3 302.8L269.7 308L270.4 318.7L270.5 319.3L270.6 318.7L270.8 316.3L271 304.8L271.4 268.3L272.2 176.6L272.4 170.7L272.4 170.7" fill="none" stroke="#b71c1c" stroke-width="1.389" stroke-linecap="square" stroke-linejoin="round"/>
<path d="M272.4 170.7L272.5 174.3L272.6 182.9L272.8 195.9L272.9 212.2L273 230.6L273.1 249.7L273.3 268.3L273.4 285.3L273.5 299.9L273.7 311.7L273.8 320.4L273.9 326.1L274 329.1L274.2 329.6L274.3 328.4L274.4 325.9L274.6 322.6L274.7 319.1L274.8 315.5L274.9 312.2L275.1 309.3L275.2 306.8L275.3 304.8L275.4 303.2L275.6 302L275.7 301L275.8 300.2L276 299.6L276.1 299L276.2 298.4L276.3 297.8L276.5 297.2L276.6 296.5L276.7 295.8L276.9 295.1L277 294.3L277.1 293.5L277.2 292.6L277.4 291.7L277.5 290.6L277.6 289.5L277.8 288.2L277.9 286.9L278 285.4L278.1 283.9L278.3 282.3L278.4 280.7L278.5 279L278.7 277.3L278.8 275.5L278.9 273.7L279 271.9L279.2 270L279.3 268.1L279.4 266.2L279.5 264.3L279.7 262.3L279.8 260.4L279.9 258.4L280.1 256.5L280.2 254.7L280.3 252.9L280.4 251.3L280.6 249.7L280.7 248.3L280.8 247L281 245.8L281.1 244.8L281.2 243.9L281.3 243.2L281.5 242.7L281.6 242.3L281.7 242.2L281.9 242.3L282 242.6L282.1 243L282.2 243.6L282.4 244.4L282.5 245.3L282.6 246.3L282.8 247.5L282.9 248.7L283 250.1L283.1 251.7L283.3 253.4L283.4 255.1L283.5 257L283.6 259L283.8 261L283.9 263.1L284 265.2L284.2 267.4L284.3 269.5L284.4 271.6L284.5 273.6L284.7 275.6L284.8 277.5L284.9 279.4L285.1 281.2L285.2 282.9L285.3 284.6L285.4 286.3L285.6 287.9L285.7 289.4L285.8 290.9L286 292.2L286.1 293.4L286.2 294.5L286.3 295.4L286.5 296.3L286.6 297.2L286.7 298L286.8 298.7L287 299.4L287.1 300.1" fill="none" stroke="#f44336" stroke-width="1.389" stroke-linecap="square" stroke-linejoin="round"/>
<path d="M287.1 300.1L287.7 302.7L288.3 304.2L288.6 304.7L289.2 305L289.5 305L291.2 304.4L292 304.3L292.9 303.4L293.3 302.8L293.6 301.6L294.5 297.4L294.9 294.5L295.6 286.9L297.2 265.4L297.5 264.7L297.6 264.7L297.7 264.9L298 265.9L298.3 267.9L298.8 274.5L300.2 293.7L300.7 298.1L301.3 303L301.7 308.2L302.3 318.2L302.5 318.2L302.6 316.6L302.9 306.9L303.1 287L303.6 222.7L304 180.4L304.3 171.9L304.3 171.9" fill="none" stroke="#b71c1c" stroke-width="1.389" stroke-linecap="square" stroke-linejoin="round"/>
<path d="M304.3 171.9L304.4 175.5L304.5 184.2L304.7 197.3L304.8 213.7L304.9 232.1L305 251.1L305.2 269.7L305.3 286.6L305.4 301.1L305.6 312.8L305.7 321.5L305.8 327.3L305.9 330.3L306.1 331.1L306.2 330.1L306.3 327.7L306.4 324.5L306.6 320.9L306.7 317.3L306.8 313.8L307 310.7L307.1 308L307.2 305.8L307.3 304.1L307.5 302.7L307.6 301.6L307.7 300.8L307.9 300.1L308 299.6L308.1 299L308.2 298.5L308.4 297.9L308.5 297.3L308.6 296.7L308.8 295.9L308.9 295.2L309 294.3L309.1 293.4L309.3 292.4L309.4 291.3L309.5 290.1L309.7 288.9L309.8 287.6L309.9 286.1L310 284.6L310.2 283.1L310.3 281.4L310.4 279.7L310.5 277.9L310.7 276L310.8 274.2L310.9 272.3L311.1 270.4L311.2 268.5L311.3 266.6L311.4 264.6L311.6 262.6L311.7 260.6L311.8 258.6L312 256.6L312.1 254.7L312.2 252.9L312.3 251.3L312.5 249.7L312.6 248.2L312.7 246.9L312.9 245.8L313 244.8L313.1 243.9L313.2 243.2L313.4 242.7L313.5 242.3L313.6 242.1L313.8 242L313.9 242L314 242.2L314.1 242.6L314.3 243.1L314.4 243.8L314.5 244.7L314.6 245.8L314.8 247.1L314.9 248.6L315 250.3L315.2 252L315.3 253.9L315.4 255.8L315.5 257.8L315.7 259.8L315.8 261.8L315.9 263.9L316.1 266L316.2 268.2L316.3 270.3L316.4 272.4L316.6 274.5L316.7 276.5L316.8 278.5L317 280.3L317.1 282.1L317.2 283.7L317.3 285.2L317.5 286.7L317.6 288.1L317.7 289.4L317.8 290.6L318 291.8L318.1 292.9L318.2 293.9L318.4 294.8L318.5 295.6L318.6 296.3L318.7 296.9L318.9 297.6L319 298.2" fill="none" stroke="#f44336" stroke-width="1.389" stroke-linecap="square" stroke-linejoin="round"/>
<path d="M319 298.2L319.5 300L320.2 301.4L320.7 302.2L321.2 302.4L321.6 302.5L322.6 302.2L323.2 302.5L323.5 302.4L324.5 301.3L325 301.1L325.4 300.5L325.9 299L326.3 297.5L326.7 295L327.1 291.1L327.8 280.1L328.7 268.1L329.1 264.8L329.4 263.8L329.5 263.7L329.6 263.9L329.9 265L330.3 268.7L331.2 281.7L332.1 293L332.8 299.5L333.3 304.3L333.9 312.4L334.2 317.9L334.4 318.2L334.5 317.1L334.8 309L335 290.9L335.5 227.7L335.9 181.9L336.2 169.7L336.2 169.7L336.2 169.7" fill="none" stroke="#b71c1c" stroke-width="1.389" stroke-linecap="square" stroke-linejoin="round"/>
<path d="M336.2 169.7L336.3 173.3L336.5 182L336.6 195.3L336.7 211.9L336.9 230.7L337 250.1L337.1 269.1L337.2 286.4L337.4 301.3L337.5 313.4L337.6 322.3L337.7 328.3L337.9 331.5L338 332.4L338.1 331.4L338.3 329.2L338.4 326.1L338.5 322.5L338.6 318.8L338.8 315.3L338.9 312.1L339 309.3L339.2 307.1L339.3 305.2L339.4 303.8L339.5 302.7L339.7 301.9L339.8 301.2L339.9 300.6L340.1 300L340.2 299.4L340.3 298.7L340.4 298L340.6 297.2L340.7 296.4L340.8 295.5L340.9 294.6L341.1 293.7L341.2 292.7L341.3 291.7L341.5 290.5L341.6 289.3L341.7 287.9L341.8 286.4L342 284.8L342.1 283.2L342.2 281.4L342.4 279.6L342.5 277.9L342.6 276.1L342.7 274.3L342.9 272.5L343 270.7L343.1 268.9L343.3 267L343.4 265L343.5 263L343.6 260.9L343.8 258.9L343.9 256.9L344 255L344.2 253.1L344.3 251.4L344.4 249.8L344.5 248.2L344.7 246.8L344.8 245.5L344.9 244.4L345 243.4L345.2 242.6L345.3 242L345.4 241.5L345.6 241.2L345.7 241.1L345.8 241.1L345.9 241.4L346.1 241.8L346.2 242.4L346.3 243.2L346.5 244.1L346.6 245.1L346.7 246.3L346.8 247.6L347 249L347.1 250.6L347.2 252.4L347.4 254.2L347.5 256.2L347.6 258.3L347.7 260.3L347.9 262.4L348 264.4L348.1 266.3L348.3 268.3L348.4 270.2L348.5 272.1L348.6 274.1L348.8 276.1L348.9 278.1L349 280.1L349.1 282L349.3 283.8L349.4 285.6L349.5 287.2L349.7 288.8L349.8 290.1L349.9 291.4L350 292.6L350.2 293.7L350.3 294.8L350.4 295.8L350.6 296.7L350.7 297.5L350.8 298.4L350.9 299.1" fill="none" stroke="#f44336" stroke-width="1.389" stroke-linecap="square" stroke-linejoin="round"/>
<path d="M350.9 299.1L351.6 302.1L352.2 304.1L352.6 304.6L352.9 304.6L353.5 304.2L354.1 304.2L355.6 303.2L356.2 303.3L356.6 302.9L357.1 302.3L357.3 302L357.7 301L358.5 297.6L358.9 295L359.4 289.8L360.2 279.2L361.1 266.5L361.4 263.4L361.7 262.4L361.8 262.2L362 262.3L362.2 263.5L362.6 267.8L364.4 293.1L365 297.9L365.5 302.2L365.9 307.7L366.6 317.1L366.7 316.8L366.8 314.9L367.1 304.7L367.5 270.4L368.4 171.5L368.5 169.8L368.5 169.8" fill="none" stroke="#b71c1c" stroke-width="1.389" stroke-linecap="square" stroke-linejoin="round"/>
<path d="M368.5 169.8L368.6 173.3L368.7 181.7L368.9 194.5L369 210.5L369.1 228.7L369.3 247.7L369.4 266.3L369.5 283.5L369.6 298.6L369.8 310.9L369.9 320.3L370 326.7L370.2 330.3L370.3 331.4L370.4 330.6L370.5 328.4L370.7 325.1L370.8 321.4L370.9 317.7L371.1 314.1L371.2 311L371.3 308.3L371.4 306.1L371.6 304.5L371.7 303.2L371.8 302.2L371.9 301.4L372.1 300.8L372.2 300.3L372.3 299.7L372.5 299.2L372.6 298.6L372.7 298L372.8 297.3L373 296.5L373.1 295.7L373.2 294.9L373.4 294L373.5 293.1L373.6 292.1L373.7 291L373.9 289.9L374 288.7L374.1 287.3L374.3 285.9L374.4 284.4L374.5 282.8L374.6 281.1L374.8 279.4L374.9 277.7L375 276L375.2 274.3L375.3 272.6L375.4 270.8L375.5 269L375.7 267.1L375.8 265.2L375.9 263.2L376 261.2L376.2 259.2L376.3 257.2L376.4 255.3L376.6 253.5L376.7 251.8L376.8 250.2L376.9 248.7L377.1 247.4L377.2 246.1L377.3 245.1L377.5 244.2L377.6 243.5L377.7 242.9L377.8 242.5L378 242.3L378.1 242.2L378.2 242.2L378.4 242.4L378.5 242.6L378.6 243.1L378.7 243.8L378.9 244.6L379 245.6L379.1 246.8L379.3 248.2L379.4 249.7L379.5 251.3L379.6 253L379.8 254.8L379.9 256.7L380 258.6L380.1 260.6L380.3 262.5L380.4 264.4L380.5 266.2L380.7 268.1L380.8 270.1L380.9 272.1L381 274.2L381.2 276.3L381.3 278.5L381.4 280.7L381.6 282.8L381.7 284.7L381.8 286.5L381.9 288.1L382.1 289.5L382.2 290.7L382.3 291.8L382.5 292.8L382.6 293.8L382.7 294.7L382.8 295.6L383 296.5L383.1 297.4L383.2 298.3" fill="none" stroke="#f44336" stroke-width="1.389" stroke-linecap="square" stroke-linejoin="round"/>
<path d="M383.2 298.3L383.9 301.5L384.4 303.2L384.8 303.8L385.8 304.6L386.2 304.6L387.2 304.2L387.7 304.1L389.4 302.8L389.8 301.8L391.3 295.8L391.7 292.2L392.3 283.5L393.5 267.2L393.9 264.3L394.1 263.6L394.2 263.6L394.5 264.6L394.9 268L395.8 280L396.9 295.2L397.4 298.8L397.8 301.4L398.2 305.8L399.1 318.9L399.2 318L399.5 310.7L399.7 293.4L400.1 248.8L400.8 174L401 168.8L401 168.8" fill="none" stroke="#b71c1c" stroke-width="1.389" stroke-linecap="square" stroke-linejoin="round"/>
<path d="M401 168.8L401.1 172.6L401.2 181.4L401.4 194.5L401.5 210.9L401.6 229.3L401.8 248.4L401.9 267.1L402 284.2L402.1 299L402.3 311L402.4 320L402.5 326.1L402.7 329.3L402.8 330.2L402.9 329.1L403 326.7L403.2 323.4L403.3 319.7L403.4 315.9L403.5 312.5L403.7 309.4L403.8 306.9L403.9 304.9L404.1 303.3L404.2 302L404.3 301.1L404.4 300.3L404.6 299.7L404.7 299.2L404.8 298.7L405 298.2L405.1 297.6L405.2 297L405.3 296.3L405.5 295.5L405.6 294.7L405.7 293.8L405.9 292.8L406 291.8L406.1 290.7L406.2 289.6L406.4 288.4L406.5 287.1L406.6 285.7L406.8 284.2L406.9 282.7L407 281.1L407.1 279.4L407.3 277.7L407.4 275.9L407.5 274.1L407.6 272.2L407.8 270.2L407.9 268.2L408 266.2L408.2 264.2L408.3 262.2L408.4 260.2L408.5 258.3L408.7 256.5L408.8 254.6L408.9 252.9L409.1 251.2L409.2 249.6L409.3 248.1L409.4 246.8L409.6 245.6L409.7 244.7L409.8 243.9L410 243.2L410.1 242.6L410.2 242.2L410.3 242L410.5 241.8L410.6 241.8L410.7 242L410.8 242.4L411 243L411.1 243.7L411.2 244.7L411.4 245.8L411.5 247L411.6 248.4L411.7 249.8L411.9 251.4L412 253.1L412.1 254.9L412.3 256.7L412.4 258.7L412.5 260.7L412.6 262.8L412.8 264.9L412.9 267L413 269.1L413.2 271.2L413.3 273.3L413.4 275.3L413.5 277.3L413.7 279.3L413.8 281.1L413.9 282.9L414.1 284.6L414.2 286.1L414.3 287.6L414.4 288.9L414.6 290.2L414.7 291.4L414.8 292.6L414.9 293.8L415.1 295L415.2 296.1L415.3 297.1L415.5 298.1L415.6 298.9L415.7 299.6" fill="none" stroke="#f44336" stroke-width="1.389" stroke-linecap="square" stroke-linejoin="round"/>
<path d="M415.7 299.6L416.2 301.6L416.9 303.4L417.4 304.3L417.8 304.5L418.2 304.4L418.8 304.1L419.3 304.3L419.8 304.4L420.2 304.3L421.5 303.3L422.3 302.1L422.6 301.3L423 299.9L423.4 297.5L423.9 292.6L424.7 282.4L425.8 266.4L426.2 264.2L426.3 263.9L426.5 263.9L426.6 264.2L426.9 265.8L427.2 270.1L429.3 297.3L430.2 304.2L430.6 309.4L431.2 318.5L431.3 318.2L431.5 316.4L431.7 306.5L432 286.6L432.5 222L432.9 179.2L433.1 170.7L433.1 170.7" fill="none" stroke="#b71c1c" stroke-width="1.389" stroke-linecap="square" stroke-linejoin="round"/>
<path d="M433.1 170.7L433.3 174.4L433.4 183.2L433.5 196.3L433.7 212.7L433.8 231.2L433.9 250.2L434 268.7L434.2 285.6L434.3 300L434.4 311.6L434.5 320.1L434.7 325.6L434.8 328.3L434.9 328.8L435.1 327.5L435.2 324.9L435.3 321.6L435.4 317.9L435.6 314.2L435.7 310.8L435.8 307.8L436 305.3L436.1 303.3L436.2 301.8L436.3 300.6L436.5 299.7L436.6 299L436.7 298.4L436.9 297.9L437 297.3L437.1 296.7L437.2 296.1L437.4 295.4L437.5 294.6L437.6 293.8L437.8 292.9L437.9 292L438 291.1L438.1 290.2L438.3 289.2L438.4 288.1L438.5 286.9L438.6 285.7L438.8 284.3L438.9 282.8L439 281.1L439.2 279.4L439.3 277.6L439.4 275.7L439.5 273.8L439.7 271.8L439.8 269.9L439.9 268L440.1 266.1L440.2 264.2L440.3 262.3L440.4 260.4L440.6 258.5L440.7 256.6L440.8 254.7L441 252.9L441.1 251.2L441.2 249.5L441.3 248L441.5 246.6L441.6 245.3L441.7 244.2L441.8 243.3L442 242.6L442.1 242L442.2 241.6L442.4 241.4L442.5 241.3L442.6 241.4L442.7 241.7L442.9 242.2L443 242.8L443.1 243.7L443.3 244.7L443.4 245.9L443.5 247.2L443.6 248.7L443.8 250.3L443.9 252L444 253.8L444.2 255.6L444.3 257.6L444.4 259.6L444.5 261.7L444.7 263.9L444.8 266.1L444.9 268.2L445.1 270.4L445.2 272.5L445.3 274.5L445.4 276.5L445.6 278.4L445.7 280.2L445.8 282L445.9 283.6L446.1 285.2L446.2 286.8L446.3 288.3L446.5 289.7L446.6 291L446.7 292.3L446.8 293.5L447 294.6L447.1 295.7L447.2 296.6L447.4 297.5L447.5 298.3L447.6 299L447.7 299.7L447.9 300.2" fill="none" stroke="#f44336" stroke-width="1.389" stroke-linecap="square" stroke-linejoin="round"/>
<path d="M447.9 300.2L448.4 301.9L448.8 302.5L449.2 302.9L449.7 302.9L450.6 303L451.2 303.1L451.5 303L451.8 302.5L452.2 302L452.5 301.9L452.9 302.1L453.3 302.3L453.6 302.2L454 301.7L454.4 300.7L454.8 298.8L455.3 295.1L455.8 289.8L456.7 277.5L457.5 267.5L457.9 264.9L458 264.6L458.1 264.7L458.4 265.7L458.8 269.1L459.4 277.9L460.7 295.3L461.2 299.4L461.6 302L462 306.4L462.7 317.7L462.9 317.8L463 316.4L463.2 307.5L463.5 288.5L464 225.4L464.4 183.3L464.7 174.8L464.7 174.8" fill="none" stroke="#b71c1c" stroke-width="1.389" stroke-linecap="square" stroke-linejoin="round"/>
<path d="M464.7 174.8L464.8 178.4L464.9 186.9L465 199.8L465.2 215.9L465.3 234.1L465.4 252.9L465.5 271.2L465.7 287.8L465.8 302.1L465.9 313.4L466.1 321.7L466.2 327L466.3 329.6L466.4 329.9L466.6 328.5L466.7 325.7L466.8 322.3L467 318.5L467.1 314.8L467.2 311.4L467.3 308.4L467.5 306L467.6 304.1L467.7 302.6L467.9 301.5L468 300.7L468.1 300L468.2 299.3L468.4 298.7L468.5 298.1L468.6 297.5L468.8 296.8L468.9 296.1L469 295.3L469.1 294.4L469.3 293.5L469.4 292.5L469.5 291.5L469.6 290.3L469.8 289.2L469.9 287.9L470 286.6L470.2 285.2L470.3 283.8L470.4 282.3L470.5 280.7L470.7 279L470.8 277.3L470.9 275.5L471.1 273.7L471.2 271.8L471.3 269.8L471.4 267.9L471.6 265.9L471.7 263.9L471.8 262L472 260.1L472.1 258.2L472.2 256.4L472.3 254.7L472.5 253L472.6 251.4L472.7 249.9L472.8 248.4L473 247L473.1 245.8L473.2 244.6L473.4 243.7L473.5 242.9L473.6 242.3L473.7 242L473.9 241.8L474 241.8L474.1 242.1L474.3 242.5L474.4 243.2L474.5 244L474.6 244.9L474.8 246L474.9 247.3L475 248.6L475.2 250.1L475.3 251.7L475.4 253.4L475.5 255.2L475.7 257.1L475.8 259L475.9 261L476.1 263L476.2 265L476.3 267.1L476.4 269.1L476.6 271.1L476.7 273.1L476.8 275.1L476.9 277.1L477.1 279L477.2 280.9L477.3 282.7L477.5 284.4L477.6 286L477.7 287.5L477.8 289L478 290.4L478.1 291.7L478.2 292.9L478.4 294.1L478.5 295.2L478.6 296.3L478.7 297.3L478.9 298.1L479 298.9L479.1 299.7L479.3 300.3L479.4 300.9" fill="none" stroke="#f44336" stroke-width="1.389" stroke-linecap="square" stroke-linejoin="round"/>
<path d="M479.4 300.9L479.8 302.2L480.2 302.8L481.4 303.7L481.7 303.7L482.6 303.2L483.9 303L484.5 302.7L484.8 302.3L485.7 300L486 298.6L486.4 296.3L486.9 291.8L487.6 283.8L488.9 266.3L489.2 263.9L489.5 263.4L489.6 263.6L489.9 264.7L490.3 267.9L490.9 276.1L491.9 290.4L492.6 296.2L493.2 301.6L493.6 307.3L494.1 315.4L494.2 315.9L494.4 315.1L494.6 307.7L494.9 290.4L495.3 246.3L495.8 183.7L496 171.7L496.1 171.7L496.1 171.7" fill="none" stroke="#b71c1c" stroke-width="1.389" stroke-linecap="square" stroke-linejoin="round"/>
<path d="M496.1 171.7L496.2 175.2L496.3 183.9L496.5 196.9L496.6 213.3L496.7 231.8L496.8 251L497 269.7L497.1 286.8L497.2 301.6L497.4 313.6L497.5 322.5L497.6 328.4L497.7 331.6L497.9 332.5L498 331.4L498.1 329.1L498.3 325.8L498.4 322.1L498.5 318.3L498.6 314.7L498.8 311.6L498.9 308.9L499 306.7L499.2 305.1L499.3 303.9L499.4 303L499.5 302.3L499.7 301.7L499.8 301.2L499.9 300.6L500 300.1L500.2 299.4L500.3 298.7L500.4 297.9L500.6 297.1L500.7 296.1L500.8 295.1L500.9 294.1L501.1 293L501.2 291.9L501.3 290.8L501.5 289.6L501.6 288.4L501.7 287L501.8 285.6L502 284L502.1 282.4L502.2 280.7L502.4 278.9L502.5 277.1L502.6 275.3L502.7 273.4L502.9 271.4L503 269.4L503.1 267.3L503.3 265.3L503.4 263.2L503.5 261.1L503.6 259.1L503.8 257.2L503.9 255.3L504 253.4L504.1 251.6L504.3 249.9L504.4 248.4L504.5 247L504.7 245.7L504.8 244.7L504.9 243.8L505 243L505.2 242.4L505.3 241.9L505.4 241.6L505.6 241.5L505.7 241.5L505.8 241.7L505.9 242.1L506.1 242.7L506.2 243.4L506.3 244.4L506.5 245.4L506.6 246.6L506.7 247.9L506.8 249.4L507 250.9L507.1 252.6L507.2 254.4L507.4 256.3L507.5 258.2L507.6 260.3L507.7 262.5L507.9 264.6L508 266.8L508.1 268.9L508.2 271L508.4 273L508.5 274.9L508.6 276.8L508.8 278.7L508.9 280.6L509 282.4L509.1 284.2L509.3 285.9L509.4 287.4L509.5 288.9L509.7 290.3L509.8 291.5L509.9 292.8L510 293.9L510.2 295L510.3 296.1L510.4 297.1L510.6 298.1L510.7 298.9L510.8 299.6" fill="none" stroke="#f44336" stroke-width="1.389" stroke-linecap="square" stroke-linejoin="round"/>
<path d="M510.8 299.6L511.3 301.7L512 303.5L512.3 304L512.7 304.4L513.4 305.3L513.6 305.2L514.4 304.6L514.8 304.2L515.4 303.5L516.2 303L516.8 302.4L517.2 301.6L518.2 298.6L518.6 296.2L519.1 290.6L520.2 275.7L520.9 265.7L521.3 263.1L521.4 262.9L521.6 263L521.8 264.1L522.2 267.7L523.1 279.8L524.3 294.9L524.9 299.6L525.3 302.6L525.7 308.1L526.3 318.4L526.4 318.2L526.6 316.3L526.8 306L527.2 271.5L528.1 171.6L528.2 169.8L528.2 169.8" fill="none" stroke="#b71c1c" stroke-width="1.389" stroke-linecap="square" stroke-linejoin="round"/>
<path d="M528.2 169.8L528.4 173.3L528.5 181.8L528.6 194.7L528.7 211L528.9 229.5L529 248.9L529.1 267.9L529.3 285.4L529.4 300.8L529.5 313.4L529.6 322.9L529.8 329.4L529.9 333L530 334.2L530.2 333.3L530.3 331.1L530.4 327.9L530.5 324.2L530.7 320.3L530.8 316.7L530.9 313.5L531 310.7L531.2 308.4L531.3 306.5L531.4 305.1L531.6 304L531.7 303.1L531.8 302.4L531.9 301.7L532.1 301.1L532.2 300.5L532.3 299.9L532.5 299.2L532.6 298.5L532.7 297.7L532.8 296.9L533 296L533.1 295.1L533.2 294L533.4 292.8L533.5 291.5L533.6 290.1L533.7 288.6L533.9 287L534 285.4L534.1 283.8L534.3 282.2L534.4 280.6L534.5 279.1L534.6 277.5L534.8 275.8L534.9 274.1L535 272.2L535.1 270.3L535.3 268.3L535.4 266.2L535.5 264L535.7 261.9L535.8 259.9L535.9 257.9L536 256L536.2 254.3L536.3 252.7L536.4 251.2L536.6 249.8L536.7 248.5L536.8 247.2L536.9 246.1L537.1 245L537.2 244L537.3 243.2L537.5 242.6L537.6 242L537.7 241.7L537.8 241.4L538 241.4L538.1 241.4L538.2 241.6L538.4 242.1L538.5 242.7L538.6 243.5L538.7 244.6L538.9 245.9L539 247.3L539.1 248.9L539.2 250.7L539.4 252.5L539.5 254.3L539.6 256.2L539.8 258.1L539.9 260L540 262L540.1 264L540.3 266.1L540.4 268.1L540.5 270.2L540.7 272.3L540.8 274.4L540.9 276.5L541 278.5L541.2 280.4L541.3 282.3L541.4 284L541.6 285.7L541.7 287.3L541.8 288.9L541.9 290.3L542.1 291.7L542.2 293L542.3 294.2L542.4 295.4L542.6 296.4L542.7 297.4L542.8 298.3L543 299" fill="none" stroke="#f44336" stroke-width="1.389" stroke-linecap="square" stroke-linejoin="round"/>
<path d="M543 299L543.6 301.7L544.2 303.6L544.6 304.3L545.3 304.8L545.5 304.9L545.9 304.7L546.3 304.5L546.5 304.6L547.2 305.1L547.4 305.1L547.7 304.9L548.6 303.9L548.9 303.7L549.1 303.3L550.5 299.2L550.9 297.1L551.4 292.4L552.2 282.6L553.5 265.2L553.9 263L554 262.7L554.1 262.7L554.2 263L554.5 264.4L554.9 268.2L555.5 277.1L556.5 291.8L557.2 297.5L557.8 302.7L558.2 307.9L558.8 318.3L559 318.6L559.1 317.6L559.4 309.9L559.6 292.6L560 248.3L560.6 172.7L560.9 166.9L560.9 166.9" fill="none" stroke="#b71c1c" stroke-width="1.389" stroke-linecap="square" stroke-linejoin="round"/>
<path d="M560.9 166.9L561 170.5L561.1 179.3L561.2 192.4L561.4 208.9L561.5 227.5L561.6 246.9L561.8 265.9L561.9 283.3L562 298.4L562.1 310.7L562.3 319.8L562.4 325.8L562.5 329.1L562.6 329.9L562.8 328.7L562.9 326.2L563 322.8L563.2 319L563.3 315.2L563.4 311.7L563.5 308.5L563.7 305.8L563.8 303.7L563.9 301.9L564.1 300.6L564.2 299.5L564.3 298.7L564.4 298L564.6 297.5L564.7 297L564.8 296.5L565 296L565.1 295.4L565.2 294.8L565.3 294L565.5 293.1L565.6 292.1L565.7 291.1L565.8 290L566 288.9L566.1 287.8L566.2 286.6L566.4 285.3L566.5 284L566.6 282.5L566.7 281L566.9 279.4L567 277.6L567.1 275.8L567.3 274L567.4 272.1L567.5 270.3L567.6 268.4L567.8 266.6L567.9 264.7L568 262.8L568.2 260.9L568.3 258.9L568.4 256.9L568.5 254.8L568.7 252.8L568.8 250.8L568.9 249L569.1 247.4L569.2 245.9L569.3 244.6L569.4 243.6L569.6 242.6L569.7 241.8L569.8 241.2L569.9 240.6L570.1 240.2L570.2 239.9L570.3 239.8L570.5 239.9L570.6 240.1L570.7 240.5L570.8 241.1L571 241.8L571.1 242.6L571.2 243.6L571.4 244.7L571.5 245.8L571.6 247.1L571.7 248.5L571.9 250L572 251.6L572.1 253.4L572.3 255.3L572.4 257.2L572.5 259.2L572.6 261.4L572.8 263.5L572.9 265.7L573 267.9L573.2 270.1L573.3 272.2L573.4 274.3L573.5 276.4L573.7 278.4L573.8 280.3L573.9 282.2L574 284L574.2 285.6L574.3 287.2L574.4 288.6L574.6 289.9L574.7 291.2L574.8 292.4L574.9 293.5L575.1 294.6L575.2 295.6L575.3 296.5L575.5 297.3L575.6 298.1" fill="none" stroke="#f44336" stroke-width="1.389" stroke-linecap="square" stroke-linejoin="round"/>
<path d="M575.6 298.1L576.1 300.6L576.6 302.1L577.3 303.3L577.8 303.8L578 303.9L578.4 303.8L579.9 303L580.6 303.2L581 302.8L581.6 302.1L582 301.8L582.2 301.4L582.6 299.9L583.3 296.4L583.7 293.1L584.3 285.1L585.8 264.8L586.1 263.5L586.2 263.3L586.3 263.3L586.6 264.3L587 267.4L587.6 275.8L588.9 293.7L589.7 299.9L590.1 303.4L590.4 308.9L591.1 319.2L591.2 319.4L591.3 318.1L591.6 309.6L591.9 291L592.4 228L592.8 183.3L593 171.9L593 171.9L593 171.9" fill="none" stroke="#b71c1c" stroke-width="1.389" stroke-linecap="square" stroke-linejoin="round"/>
<path d="M593 171.9L593.2 175.6L593.3 184.4L593.4 197.4L593.6 213.7L593.7 231.9L593.8 250.8L593.9 269.1L594.1 285.7L594.2 299.9L594.3 311.2L594.5 319.5L594.6 324.8L594.7 327.4L594.8 327.8L595 326.4L595.1 323.8L595.2 320.4L595.4 316.7L595.5 313L595.6 309.7L595.7 306.8L595.9 304.4L596 302.5L596.1 301.2L596.3 300.1L596.4 299.4L596.5 298.7L596.6 298.1L596.8 297.6L596.9 297L597 296.4L597.1 295.8L597.3 295.2L597.4 294.6L597.5 294L597.7 293.3L597.8 292.6L597.9 291.7L598 290.6L598.2 289.5L598.3 288.2L598.4 286.8L598.6 285.4L598.7 283.9L598.8 282.4L598.9 280.8L599.1 279.2L599.2 277.6L599.3 275.9L599.5 274.1L599.6 272.3L599.7 270.4L599.8 268.4L600 266.4L600.1 264.3L600.2 262.3L600.4 260.2L600.5 258.2L600.6 256.3L600.7 254.4L600.9 252.7L601 251L601.1 249.5L601.2 248.1L601.4 246.8L601.5 245.7L601.6 244.7L601.8 243.8L601.9 243.1L602 242.5L602.1 242L602.3 241.7L602.4 241.5L602.5 241.5L602.7 241.7L602.8 242.1L602.9 242.7L603 243.6L603.2 244.6L603.3 245.9L603.4 247.4L603.6 249.1L603.7 250.9L603.8 252.7L603.9 254.7L604.1 256.6L604.2 258.6L604.3 260.6L604.4 262.7L604.6 264.9L604.7 267L604.8 269.3L605 271.6L605.1 273.8L605.2 276L605.3 278.2L605.5 280.2L605.6 282.2L605.7 284L605.9 285.7L606 287.4L606.1 289L606.2 290.5L606.4 292L606.5 293.4L606.6 294.7L606.8 295.9L606.9 296.9L607 297.8L607.1 298.6L607.3 299.4L607.4 300.1L607.5 300.8L607.7 301.5L607.8 302.1" fill="none" stroke="#f44336" stroke-width="1.389" stroke-linecap="square" stroke-linejoin="round"/>
<path d="M607.8 302.1L608.3 304.3L608.8 305.5L609.1 305.8L609.3 305.8L609.8 305.8L610.5 306L611.4 305.5L612.9 305.9L613.3 305.5L614.2 304.3L614.6 303.1L615 301L615.5 296.6L616.1 288.2L617.3 272.4L617.6 269.8L617.9 269.4L618 269.5L618.3 270.5L618.5 272.5L618.9 277.3L620.3 297.5L620.8 301.8L621.4 305.6L621.7 310.4L622.6 325.5L622.8 324.5L623 316.2L623.3 297.9L623.8 235.1L624.3 180.4L624.5 176.7L624.5 176.7" fill="none" stroke="#b71c1c" stroke-width="1.389" stroke-linecap="square" stroke-linejoin="round"/>
<path d="M624.5 176.7L624.6 180.3L624.7 189.1L624.9 202.4L625 219.1L625.1 237.8L625.2 257.1L625.4 275.7L625.5 292.6L625.6 307.1L625.8 318.5L625.9 326.8L626 332.1L626.1 334.7L626.3 335L626.4 333.6L626.5 330.8L626.7 327.4L626.8 323.5L626.9 319.7L627 316.1L627.2 313L627.3 310.3L627.4 308.1L627.6 306.4L627.7 305.2L627.8 304.3L627.9 303.6L628.1 303.1L628.2 302.6L628.3 302.1L628.4 301.5L628.6 300.9L628.7 300.3L628.8 299.5L629 298.8L629.1 298L629.2 297.1L629.3 296.1L629.5 295L629.6 293.8L629.7 292.5L629.9 291.1L630 289.7L630.1 288.2L630.2 286.7L630.4 285.1L630.5 283.5L630.6 281.7L630.8 279.9L630.9 278.1L631 276.1L631.1 274.2L631.3 272.2L631.4 270.3L631.5 268.3L631.6 266.2L631.8 264.2L631.9 262.1L632 260.1L632.2 258.1L632.3 256.3L632.4 254.6L632.5 253L632.7 251.6L632.8 250.4L632.9 249.3L633.1 248.4L633.2 247.6L633.3 247L633.4 246.4L633.6 246L633.7 245.8L633.8 245.7L634 245.7L634.1 245.9L634.2 246.3L634.3 246.9L634.5 247.6L634.6 248.7L634.7 249.9L634.9 251.2L635 252.7L635.1 254.3L635.2 256L635.4 257.8L635.5 259.7L635.6 261.5L635.7 263.5L635.9 265.5L636 267.5L636.1 269.6L636.3 271.6L636.4 273.6L636.5 275.6L636.6 277.5L636.8 279.5L636.9 281.3L637 283.2L637.2 285L637.3 286.8L637.4 288.4L637.5 290L637.7 291.5L637.8 292.8L637.9 294.1L638.1 295.3L638.2 296.3L638.3 297.3L638.4 298.2L638.6 299L638.7 299.8L638.8 300.6L639 301.2L639.1 301.9L639.2 302.4" fill="none" stroke="#f44336" stroke-width="1.389" stroke-linecap="square" stroke-linejoin="round"/>
<path d="M639.2 302.4L639.6 303.6L640 304L641 304.5L641.4 304.1L641.8 303.8L642.4 303.5L644.7 300.2L645.1 299.5L645.5 298.4L646 296.1L646.4 293.5L647 287L647.7 278.3L648.8 261.8L649.2 259.4L649.3 259.2L649.5 259.2L649.7 260.1L650 262.1L650.5 268.5L651.8 285.5L652.3 289.8L653 295.3L653.4 300L654.1 309.1L654.2 308.8L654.3 306.8L654.6 296.2L655 260.9L655.7 170.1L655.9 164L655.9 164" fill="none" stroke="#b71c1c" stroke-width="1.389" stroke-linecap="square" stroke-linejoin="round"/>
<path d="M655.9 164L656.1 167.4L656.2 175.9L656.3 188.7L656.5 205L656.6 223.2L656.7 242.3L656.8 260.8L657 277.9L657.1 292.6L657.2 304.6L657.4 313.7L657.5 319.8L657.6 323.2L657.7 324.4L657.9 323.6L658 321.4L658.1 318.2L658.3 314.5L658.4 310.7L658.5 306.9L658.6 303.5L658.8 300.5L658.9 298L659 296L659.1 294.4L659.3 293.2L659.4 292.2L659.5 291.5L659.7 290.9L659.8 290.3L659.9 289.8L660 289.2L660.2 288.6L660.3 288L660.4 287.3L660.6 286.6L660.7 285.8L660.8 285L660.9 284.1L661.1 283L661.2 281.9L661.3 280.6L661.5 279.1L661.6 277.5L661.7 275.9L661.8 274.2L662 272.6L662.1 270.9L662.2 269.2L662.4 267.5L662.5 265.8L662.6 264.1L662.7 262.3L662.9 260.5L663 258.5L663.1 256.5L663.2 254.5L663.4 252.4L663.5 250.3L663.6 248.2L663.8 246.2L663.9 244.2L664 242.3L664.1 240.5L664.3 238.9L664.4 237.4L664.5 236.1L664.7 235L664.8 234L664.9 233.2L665 232.5L665.2 232L665.3 231.6L665.4 231.4L665.6 231.4L665.7 231.5L665.8 231.8L665.9 232.3L666.1 233L666.2 233.8L666.3 234.8L666.4 236L666.6 237.2L666.7 238.6L666.8 240.1L667 241.7L667.1 243.4L667.2 245.2L667.3 247.1L667.5 249L667.6 250.9L667.7 252.9L667.9 254.9L668 256.9L668.1 258.9L668.2 260.9L668.4 262.9L668.5 264.9L668.6 266.9L668.8 268.7L668.9 270.5L669 272.1L669.1 273.7L669.3 275.3L669.4 276.8L669.5 278.3L669.7 279.7L669.8 281L669.9 282.3L670 283.5L670.2 284.5L670.3 285.5L670.4 286.4L670.5 287.2L670.7 288" fill="none" stroke="#f44336" stroke-width="1.389" stroke-linecap="square" stroke-linejoin="round"/>
<path d="M670.7 288L671.3 291L671.8 292.3L672.5 293.1L673.2 293.8L673.8 294.1L674.6 294L675.4 294.3L675.9 294.3L676.4 294L677.5 293.2L677.9 292.5L678.2 291.1L678.6 288.9L679.1 283.8L679.9 273.1L680.7 262.1L681.1 259L681.3 258.3L681.4 258.4L681.7 259.3L682.1 262L682.5 266L683 273.9L683.9 287.9L684.5 294.7L685.3 301.5L685.7 307.2L686.3 317.3L686.4 317.5L686.6 316.1L686.8 307.6L687.1 289.3L687.6 227.4L688 183.1L688.2 171.6L688.3 171.7L688.3 171.7" fill="none" stroke="#b71c1c" stroke-width="1.389" stroke-linecap="square" stroke-linejoin="round"/>
<path d="M688.3 171.7L688.4 175.3L688.5 183.9L688.7 196.9L688.8 213.2L688.9 231.7L689 251L689.2 270.1L689.3 287.8L689.4 303.3L689.6 316.2L689.7 326.1L689.8 333.1L689.9 337.2L690.1 338.8L690.2 338.4L690.3 336.4L690.4 333.4L690.6 329.8L690.7 326.1L690.8 322.6L691 319.4L691.1 316.6L691.2 314.3L691.3 312.4L691.5 310.9L691.6 309.7L691.7 308.8L691.9 308.1L692 307.5L692.1 307L692.2 306.5L692.4 306.1L692.5 305.6L692.6 305.1L692.8 304.5L692.9 303.9L693 303.3L693.1 302.6L693.3 301.9L693.4 301.1L693.5 300.2L693.6 299.3L693.8 298.2L693.9 297.1L694 295.8L694.2 294.5L694.3 293.1L694.4 291.6L694.5 290.1L694.7 288.6L694.8 287L694.9 285.4L695.1 283.8L695.2 282.1L695.3 280.4L695.4 278.7L695.6 277.1L695.7 275.4L695.8 273.7L696 272.1L696.1 270.4L696.2 268.8L696.3 267.2L696.5 265.6L696.6 264L696.7 262.6L696.9 261.3L697 260.1L697.1 259.1L697.2 258.2L697.4 257.5L697.5 257L697.6 256.6L697.7 256.3L697.9 256.3L698 256.3L698.1 256.6L698.3 257L698.4 257.6L698.5 258.3L698.6 259.3L698.8 260.4L698.9 261.6L699 263L699.2 264.6L699.3 266.3L699.4 268.1L699.5 270.1L699.7 272.1L699.8 274.2L699.9 276.4L700.1 278.6L700.2 280.9L700.3 283.1L700.4 285.3L700.6 287.5L700.7 289.7L700.8 291.9L701 294L701.1 296.1L701.2 298.1L701.3 300.1L701.5 302L701.6 303.9L701.7 305.7L701.8 307.4L702 309L702.1 310.5L702.2 311.9L702.4 313.2L702.5 314.4L702.6 315.5L702.7 316.6L702.9 317.5L703 318.5" fill="none" stroke="#f44336" stroke-width="1.389" stroke-linecap="square" stroke-linejoin="round"/>
<path d="M703 318.5L703.8 323L704.3 324.9L704.9 326.2L705.4 326.9L705.8 327.1L706.7 327.2L707.6 326.3L708 326.4L708.4 326.6L708.6 326.4L709 325.7L710.6 322.1L710.9 320.2L711.5 316.5L712 310.7L712.7 298.3L713.5 287L713.9 283.6L714.3 282L714.4 281.9L714.5 282.2L714.8 283.5L715.2 287.7L716.8 309.7L717.3 313.3L718 316.9L718.4 320.9L719.1 330.1L719.3 329.6L719.4 327.6L719.7 317.5L719.9 297.4L720.4 231.5L720.8 185.2L721.1 172.9L721.1 172.8L721.1 172.8" fill="none" stroke="#b71c1c" stroke-width="1.389" stroke-linecap="square" stroke-linejoin="round"/>
<path d="M721.1 172.8L721.2 176.2L721.4 184.6L721.5 197.3L721.6 213.4L721.7 231.5L721.9 250.4L722 268.8L722.1 285.7L722.3 300.3L722.4 312.2L722.5 321L722.6 326.8L722.8 329.9L722.9 330.6L723 329.4L723.2 326.7L723.3 323.2L723.4 319.2L723.5 315L723.7 311.1L723.8 307.5L723.9 304.4L724.1 301.8L724.2 299.7L724.3 298L724.4 296.6L724.6 295.4L724.7 294.4L724.8 293.4L724.9 292.4L725.1 291.4L725.2 290.4L725.3 289.4L725.5 288.4L725.6 287.4L725.7 286.3L725.8 285.2L726 284L726.1 282.7L726.2 281.3L726.4 279.7L726.5 278L726.6 276.2L726.7 274.3L726.9 272.4L727 270.4L727.1 268.4L727.3 266.3L727.4 264.2L727.5 262L727.6 259.7L727.8 257.4L727.9 255.1L728 252.7L728.2 250.3L728.3 247.9L728.4 245.4L728.5 243L728.7 240.6L728.8 238.3L728.9 236L729 233.8L729.2 231.7L729.3 229.7L729.4 227.8L729.6 225.9L729.7 224.2L729.8 222.6L729.9 221.2L730.1 219.9L730.2 218.9L730.3 218L730.5 217.3L730.6 216.7L730.7 216.3L730.8 216L731 215.9L731.1 215.8L731.2 216L731.4 216.3L731.5 216.9L731.6 217.6L731.7 218.5L731.9 219.7L732 221L732.1 222.4L732.3 224L732.4 225.6L732.5 227.3L732.6 228.9L732.8 230.6L732.9 232.2L733 233.9L733.1 235.6L733.3 237.4L733.4 239.1L733.5 240.9L733.7 242.6L733.8 244.3L733.9 246L734 247.5L734.2 249L734.3 250.4L734.4 251.8L734.6 253L734.7 254.2L734.8 255.3L734.9 256.3L735.1 257.2L735.2 258.1L735.3 258.9L735.5 259.7L735.6 260.4L735.7 261L735.8 261.6" fill="none" stroke="#f44336" stroke-width="1.389" stroke-linecap="square" stroke-linejoin="round"/>
<path d="M735.8 261.6L736.3 263.4L736.9 264.5L737.1 264.7L737.4 264.6L738.3 264.3L738.8 264.2L739.3 264.4L740.7 265.5L742.6 267.9L743 268.5L743.3 268.6L743.5 268.2L743.9 267L744.4 264.1L745.2 257.8L745.7 253.9L746 252.8L746.1 252.6L746.2 252.6L746.3 252.9L746.6 254.3L747 258.7L747.5 268.4L748.3 288.8L749.5 321.9L750.6 346.9L751.7 381L751.8 380.8L752 378.5L752.2 366.7L752.6 335.2L752.6 335.2" fill="none" stroke="#b71c1c" stroke-width="1.389" stroke-linecap="square" stroke-linejoin="round"/>
<text x="432.4" y="101.7" font-size="20" text-anchor="middle">ECG signal and peaks</text>
<path d="M597.6 228.7L773 228.7Q776.4 228.7 776.4 225.3L776.4 121.7Q776.4 118.3 773 118.3L597.6 118.3Q594.2 118.3 594.2 121.7L594.2 225.3Q594.2 228.7 597.6 228.7Z" fill="#ffffff" fill-opacity="0.8" stroke="#cccccc" stroke-width="1.389" stroke-opacity="0.8"/>
<circle cx="618.5" cy="134.6" r="4.17" fill="#ffc107" stroke="#ffc107" stroke-width="1.389" stroke-linejoin="round"/>
<text font-size="16.67" transform="translate(647.6 139) scale(1 1.08)">R-peaks</text>
<path d="M601 165L634 165L634 154L601 154Z" fill="#4caf50" fill-opacity="0.12"/>
<text font-size="16.67" transform="translate(647.6 165.3) scale(1 1.08)">Signal quality</text>
<path d="M601 186L618 186L634 186" fill="none" stroke="#b0bec5" stroke-width="2.083" stroke-linecap="square" stroke-linejoin="round"/>
<text font-size="16.67" transform="translate(647.6 191.7) scale(1 1.08)">Raw signal</text>
<path d="M601.5 212.5L618.5 212.5L634.5 212.5" fill="none" stroke="#b71c1c" stroke-width="1.389" stroke-linecap="square" stroke-linejoin="round"/>
<text font-size="16.67" transform="translate(647.6 218) scale(1 1.08)">Cleaned signal</text>
<path d="M80 880L785 880L785 530L80 530Z" fill="#ffffff"/>
<circle cx="145.3" cy="688.3" r="4.17" fill="#ffc107" stroke="#ffc107" stroke-width="1.389" stroke-linejoin="round"/>
<circle cx="177.5" cy="723.7" r="4.17" fill="#ffc107" stroke="#ffc107" stroke-width="1.389" stroke-linejoin="round"/>
<circle cx="209.4" cy="665.7" r="4.17" fill="#ffc107" stroke="#ffc107" stroke-width="1.389" stroke-linejoin="round"/>
<circle cx="241.3" cy="646.1" r="4.17" fill="#ffc107" stroke="#ffc107" stroke-width="1.389" stroke-linejoin="round"/>
<circle cx="273.3" cy="675.4" r="4.17" fill="#ffc107" stroke="#ffc107" stroke-width="1.389" stroke-linejoin="round"/>
<circle cx="305.2" cy="655.9" r="4.17" fill="#ffc107" stroke="#ffc107" stroke-width="1.389" stroke-linejoin="round"/>
<circle cx="337.1" cy="665.7" r="4.17" fill="#ffc107" stroke="#ffc107" stroke-width="1.389" stroke-linejoin="round"/>
<circle cx="369.4" cy="742.8" r="4.17" fill="#ffc107" stroke="#ffc107" stroke-width="1.389" stroke-linejoin="round"/>
<circle cx="401.9" cy="790.3" r="4.17" fill="#ffc107" stroke="#ffc107" stroke-width="1.389" stroke-linejoin="round"/>
<circle cx="434" cy="714.1" r="4.17" fill="#ffc107" stroke="#ffc107" stroke-width="1.389" stroke-linejoin="round"/>
<circle cx="465.6" cy="566.8" r="4.17" fill="#ffc107" stroke="#ffc107" stroke-width="1.389" stroke-linejoin="round"/>
<circle cx="497" cy="546.7" r="4.17" fill="#ffc107" stroke="#ffc107" stroke-width="1.389" stroke-linejoin="round"/>
<circle cx="529.1" cy="714.1" r="4.17" fill="#ffc107" stroke="#ffc107" stroke-width="1.389" stroke-linejoin="round"/>
<circle cx="561.8" cy="818.4" r="4.17" fill="#ffc107" stroke="#ffc107" stroke-width="1.389" stroke-linejoin="round"/>
<circle cx="593.9" cy="723.7" r="4.17" fill="#ffc107" stroke="#ffc107" stroke-width="1.389" stroke-linejoin="round"/>
<circle cx="625.4" cy="546.7" r="4.17" fill="#ffc107" stroke="#ffc107" stroke-width="1.389" stroke-linejoin="round"/>
<circle cx="656.8" cy="556.8" r="4.17" fill="#ffc107" stroke="#ffc107" stroke-width="1.389" stroke-linejoin="round"/>
<circle cx="689.2" cy="752.4" r="4.17" fill="#ffc107" stroke="#ffc107" stroke-width="1.389" stroke-linejoin="round"/>
<circle cx="722" cy="864.8" r="4.17" fill="#ffc107" stroke="#ffc107" stroke-width="1.389" stroke-linejoin="round"/>
<path d="M112.5 880.5L112.5 885.5" fill="#000000" stroke="#000000" stroke-width="1.111" stroke-linejoin="round"/>
<text font-size="16.67" text-anchor="middle" transform="translate(112.2 903.7) scale(0.965 1.08)">0</text>
<path d="M198.5 880.5L198.5 885.5" fill="#000000" stroke="#000000" stroke-width="1.111" stroke-linejoin="round"/>
<text font-size="16.67" text-anchor="middle" transform="translate(197.6 903.7) scale(0.965 1.08)">2</text>
<path d="M283.5 880.5L283.5 885.5" fill="#000000" stroke="#000000" stroke-width="1.111" stroke-linejoin="round"/>
<text font-size="16.67" text-anchor="middle" transform="translate(283 903.7) scale(0.965 1.08)">4</text>
<path d="M368.5 880.5L368.5 885.5" fill="#000000" stroke="#000000" stroke-width="1.111" stroke-linejoin="round"/>
<text font-size="16.67" text-anchor="middle" transform="translate(368.4 903.7) scale(0.965 1.08)">6</text>
<path d="M454.5 880.5L454.5 885.5" fill="#000000" stroke="#000000" stroke-width="1.111" stroke-linejoin="round"/>
<text font-size="16.67" text-anchor="middle" transform="translate(453.8 903.7) scale(0.965 1.08)">8</text>
<path d="M539.5 880.5L539.5 885.5" fill="#000000" stroke="#000000" stroke-width="1.111" stroke-linejoin="round"/>
<text font-size="16.67" text-anchor="middle" transform="translate(539.2 903.7) scale(0.92 1.08)">10</text>
<path d="M625.5 880.5L625.5 885.5" fill="#000000" stroke="#000000" stroke-width="1.111" stroke-linejoin="round"/>
<text font-size="16.67" text-anchor="middle" transform="translate(624.6 903.7) scale(0.92 1.08)">12</text>
<path d="M710.5 880.5L710.5 885.5" fill="#000000" stroke="#000000" stroke-width="1.111" stroke-linejoin="round"/>
<text font-size="16.67" text-anchor="middle" transform="translate(710 903.7) scale(0.92 1.08)">14</text>
<text font-size="16.67" text-anchor="middle" transform="translate(432.4 927.3) scale(1 1.08)">Time (seconds)</text>
<path d="M80.5 866.5L75.5 866.5" fill="#000000" stroke="#000000" stroke-width="1.111" stroke-linejoin="round"/>
<text font-size="16.67" text-anchor="end" transform="translate(70.4 873.2) scale(0.965 1.08)">78.0</text>
<path d="M80.5 821.5L75.5 821.5" fill="#000000" stroke="#000000" stroke-width="1.111" stroke-linejoin="round"/>
<text font-size="16.67" text-anchor="end" transform="translate(70.4 827.7) scale(0.965 1.08)">78.5</text>
<path d="M80.5 775.5L75.5 775.5" fill="#000000" stroke="#000000" stroke-width="1.111" stroke-linejoin="round"/>
<text font-size="16.67" text-anchor="end" transform="translate(70.4 782.2) scale(0.965 1.08)">79.0</text>
<path d="M80.5 730.5L75.5 730.5" fill="#000000" stroke="#000000" stroke-width="1.111" stroke-linejoin="round"/>
<text font-size="16.67" text-anchor="end" transform="translate(70.4 736.8) scale(0.965 1.08)">79.5</text>
<path d="M80.5 684.5L75.5 684.5" fill="#000000" stroke="#000000" stroke-width="1.111" stroke-linejoin="round"/>
<text font-size="16.67" text-anchor="end" transform="translate(70.4 691.3) scale(0.965 1.08)">80.0</text>
<path d="M80.5 639.5L75.5 639.5" fill="#000000" stroke="#000000" stroke-width="1.111" stroke-linejoin="round"/>
<text font-size="16.67" text-anchor="end" transform="translate(70.4 645.8) scale(0.965 1.08)">80.5</text>
<path d="M80.5 593.5L75.5 593.5" fill="#000000" stroke="#000000" stroke-width="1.111" stroke-linejoin="round"/>
<text font-size="16.67" text-anchor="end" transform="translate(70.4 600.4) scale(0.965 1.08)">81.0</text>
<path d="M80.5 548.5L75.5 548.5" fill="#000000" stroke="#000000" stroke-width="1.111" stroke-linejoin="round"/>
<text font-size="16.67" text-anchor="end" transform="translate(70.4 554.9) scale(0.965 1.08)">81.5</text>
<text font-size="16.67" text-anchor="middle" transform="translate(23 706) rotate(-90) scale(1 1.08)">Beats per minute (bpm)</text>
<path d="M112.2 687.5L144.2 687.5L144.6 688.1L146.8 693.3L148.9 697.9L151 702.1L153.2 705.9L155.3 709.2L157.4 712.1L159.6 714.6L161.7 716.7L163.8 718.5L166 719.9L168.1 721L170.2 721.9L172.4 722.5L174.5 722.8L176.6 722.9L177.5 722.8L178.3 722.5L179.2 722L180.5 720.9L181.8 719.5L183 717.7L184.8 714.9L186.5 711.6L188.6 707.1L191.2 701L201.4 676.2L203.5 671.9L205.3 669L207 666.6L208.2 665.1L213.4 660.5L218.5 656L222.3 653L225.3 650.9L228.3 649L230.9 647.7L233.4 646.6L235.6 645.9L237.7 645.5L239.8 645.3L241.1 645.4L242.4 645.6L243.7 646.2L245 646.9L246.7 648.2L248.4 649.9L250.5 652.2L253.1 655.5L257.8 661.9L261.2 666.4L263.7 669.4L265.9 671.5L267.6 672.8L268.9 673.6L270.2 674.2L271.4 674.5L272.7 674.6L274 674.5L275.7 674L277.4 673.3L279.1 672.4L281.3 670.9L283.8 668.9L287.7 665.5L293.2 660.5L295.8 658.5L297.9 657.1L299.6 656.2L301.3 655.6L303 655.2L304.7 655.1L307.7 655.2L311.1 655.6L314.6 656.3L318 657.1L321.8 658.3L325.7 659.8L329.9 661.7L334.2 663.8L336.8 665.2L338 666.3L339.3 667.8L340.6 669.6L341.9 671.8L343.6 675.2L345.3 679L347.4 684.4L350 691.4L353.4 701.5L360.7 723.3L363.2 730.3L365.4 735.6L367.1 739.3L368.8 742.6L372.2 749L384.2 772.1L386.7 776.4L389.3 780.3L391.4 783.2L393.1 785.1L394.8 786.7L396.5 788L397.8 788.7L399.1 789.2L400.4 789.4L401.7 789.4L402.5 789.2L403.4 788.8L404.7 787.9L405.9 786.6L407.2 785.1L408.5 783.2L410.2 780.2L411.9 776.8L414.1 771.9L416.2 766.4L418.7 759.2L421.7 750.2L426 736.5L435 706.8L436.7 699.7L438.4 691.7L440.5 680.7L443.5 663.8L453.8 604.1L455.9 593.4L457.6 585.7L459.3 579L460.6 574.7L461.9 571.1L463.2 568.3L464 566.9L464.9 565.8L468.7 561.6L472.1 558.3L475.5 555.2L478.5 552.9L481.5 550.8L484.1 549.3L486.6 548.1L489.2 547.1L491.3 546.5L493.5 546.1L495.6 545.9L496.5 546L496.9 546.2L497.7 546.9L498.6 548.1L499.5 549.8L500.3 551.9L501.6 555.9L502.9 560.7L504.1 566.3L505.9 574.8L508 586.8L510.6 603L514 626.2L520.8 673.2L523.4 689.1L525.5 700.8L527.2 709L528.9 716L532.3 730.2L543.4 777.3L546 787L548.1 794.4L550.3 801L552 805.6L553.7 809.6L555 812.1L556.2 814.2L557.5 815.8L558.4 816.6L559.2 817.2L560.1 817.5L560.9 817.6L561.8 817.5L562.6 817.1L563.5 816.6L564.4 815.8L565.6 814.3L566.9 812.4L568.2 810.1L569.9 806.4L571.6 802.2L573.7 796.2L575.9 789.4L578.4 780.6L581.4 769.4L585.7 752.4L594.7 715.9L596.4 707.1L598.1 697L600.2 682.9L602.8 664.5L613 589L615.2 575.8L616.9 566.6L618.2 560.6L619.4 555.5L620.7 551.4L621.6 549.2L622.4 547.6L623.3 546.5L623.7 546.2L624.1 546L625.4 545.9L628.4 546.1L631.8 546.5L635.2 547.2L638.7 548.1L642.1 549.2L645.5 550.6L649.3 552.4L653.2 554.4L656.2 556.1L657 557.1L657.9 558.5L658.7 560.5L659.6 563L660.9 567.5L662.1 573L663.4 579.4L665.1 589L667.3 602.7L669.8 621L673.2 647.5L680.5 704.3L683.1 722.4L685.2 735.8L686.9 745.1L688.6 753.1L693.7 774.9L698 792.2L701.8 806.9L705.3 819.2L708.7 830.6L711.7 839.9L714.7 848.4L717.2 855.1L719.8 861.2L721.1 864L721.9 864L752.6 864L752.6 864" fill="none" stroke="#ff5722" stroke-width="2.083" stroke-linecap="square" stroke-linejoin="round"/>
<path d="M80 690L785 690" fill="none" stroke="#ff9800" stroke-width="2.083" stroke-dasharray="7.708,3.333" stroke-linejoin="round"/>
<path d="M80.5 880.5L80.5 530.5" fill="none" stroke="#000000" stroke-width="1.111" stroke-linecap="square"/>
<path d="M785.5 880.5L785.5 530.5" fill="none" stroke="#000000" stroke-width="1.111" stroke-linecap="square"/>
<path d="M80.5 880.5L785.5 880.5" fill="none" stroke="#000000" stroke-width="1.111" stroke-linecap="square"/>
<path d="M80.5 530.5L785.5 530.5" fill="none" stroke="#000000" stroke-width="1.111" stroke-linecap="square"/>
<text x="432.4" y="521.7" font-size="20" text-anchor="middle">Heart Rate</text>
<path d="M674.4 596L773 596Q776.4 596 776.4 592.7L776.4 541.7Q776.4 538.3 773 538.3L674.4 538.3Q671.1 538.3 671.1 541.7L671.1 592.7Q671.1 596 674.4 596Z" fill="#ffffff" fill-opacity="0.8" stroke="#cccccc" stroke-width="1.389" stroke-opacity="0.8"/>
<path d="M678 553L694 553L711 553" fill="none" stroke="#ff5722" stroke-width="2.083" stroke-linecap="square" stroke-linejoin="round"/>
<text font-size="16.67" transform="translate(724.4 559) scale(1 1.08)">Rate</text>
<path d="M678 579L694 579L711 579" fill="none" stroke="#ff9800" stroke-width="2.083" stroke-dasharray="7.708,3.333" stroke-linejoin="round"/>
<text font-size="16.67" transform="translate(724.4 585.3) scale(1 1.08)">Mean</text>
<path d="M890 880L1243 880L1243 110L890 110Z" fill="#ffffff"/>
<path d="M906.5 707.9L907.8 707L909.1 705.9L910.3 704.7L911.6 703.4L912.9 701.8L914.2 700.1L915.5 698.2L916.7 696L918 693.5L919.3 690.7L920.6 687.4L921.9 683.6L923.1 679.3L924.4 674.4L927 663.2L929.5 650.5L932.1 636.6L935.9 614.2L939.8 591.8L942.3 578.5L943.6 572.8L944.9 567.9L946.2 563.9L947.5 560.7L948.7 558.6L950 557.5L951.3 557.4L952.6 558.4L953.9 560.5L955.1 563.6L956.4 567.6L957.7 572.5L959 578.2L961.5 591.2L965.4 613L970.5 642.3L973.1 655.7L975.6 667.6L976.9 672.7L978.2 677.4L979.5 681.5L982 688.6L984.6 695.1L985.9 698.7L987.2 702.8L988.4 707.7L989.7 713.5L991 720.5L992.3 728.4L996.1 754.7L997.4 761.6L998.7 765.4L1000 764.7L1001.2 757.8L1002.5 743.2L1003.8 719.4L1005.1 685.7L1006.4 641.7L1007.6 588.1L1010.2 460L1012.8 327.4L1014 271.1L1015.3 227.8L1016.6 201.4L1017.9 194.7L1019.2 208.5L1020.4 241.8L1021.7 291.9L1023 354.8L1028.1 637.2L1029.4 694.1L1030.7 740L1032 774.3L1033.2 797L1034.5 809.1L1035.8 812.2L1037.1 808L1038.4 798.5L1039.6 785.8L1043.5 743.3L1044.8 731.2L1046 720.9L1047.3 712.6L1048.6 706L1049.9 701L1051.2 697L1052.4 693.9L1053.7 691.3L1060.1 679.7L1062.7 674L1065.2 667.5L1067.8 659.9L1070.4 651.1L1072.9 640.9L1075.5 629.4L1078 616.9L1081.9 596.6L1085.7 575L1090.8 544.5L1094.7 521.7L1097.3 507.5L1099.8 494.7L1102.4 483.8L1103.7 479.2L1104.9 475.1L1106.2 471.6L1107.5 468.6L1108.8 466.4L1110.1 464.7L1111.3 463.6L1112.6 463.2L1113.9 463.4L1115.2 464.3L1116.5 465.9L1117.7 468.2L1119 471.1L1120.3 474.8L1121.6 479L1122.9 483.9L1125.4 495.1L1128 508.1L1130.5 522.4L1134.4 545.4L1142.1 592.6L1145.9 614.7L1148.5 628.3L1151 640.6L1153.6 651.5L1156.1 661L1158.7 669.2L1161.3 676.3L1163.8 682.4L1165.1 685.1L1166.4 687.4L1167.7 689.6L1170.2 693.2L1172.8 696.2L1175.3 698.6L1176.6 699.6L1177.9 700.5L1179.2 701.1L1181.7 702.1L1184.3 702.8L1186.9 703.2L1189.4 703.4L1192 703.3L1199.7 702.6L1207.3 702.2L1213.7 701.5L1216.3 701.1L1218.9 700.5L1222.7 699.3L1225.3 698.3L1226.6 697.6L1226.6 697.6" fill="none" stroke="#f44336" stroke-width="9.722" stroke-linecap="square" stroke-linejoin="round"/>
<path d="M933.5 880.5L933.5 885.5" fill="#000000" stroke="#000000" stroke-width="1.111" stroke-linejoin="round"/>
<text font-size="16.67" text-anchor="middle" transform="translate(932.5 903.7) scale(0.965 1.08)">−0.2</text>
<path d="M1018.5 880.5L1018.5 885.5" fill="#000000" stroke="#000000" stroke-width="1.111" stroke-linejoin="round"/>
<text font-size="16.67" text-anchor="middle" transform="translate(1017.9 903.7) scale(0.965 1.08)">0.0</text>
<path d="M1103.5 880.5L1103.5 885.5" fill="#000000" stroke="#000000" stroke-width="1.111" stroke-linejoin="round"/>
<text font-size="16.67" text-anchor="middle" transform="translate(1103.2 903.7) scale(0.965 1.08)">0.2</text>
<path d="M1189.5 880.5L1189.5 885.5" fill="#000000" stroke="#000000" stroke-width="1.111" stroke-linejoin="round"/>
<text font-size="16.67" text-anchor="middle" transform="translate(1188.6 903.7) scale(0.965 1.08)">0.4</text>
<text font-size="16.67" text-anchor="middle" transform="translate(1066.5 927.3) scale(1 1.08)">Time (seconds)</text>
<path d="M890.5 832.5L886.5 832.5" fill="#000000" stroke="#000000" stroke-width="1.111" stroke-linejoin="round"/>
<text font-size="16.67" text-anchor="end" transform="translate(880.6 839.3) scale(0.965 1.08)">−0.4</text>
<path d="M890.5 730.5L886.5 730.5" fill="#000000" stroke="#000000" stroke-width="1.111" stroke-linejoin="round"/>
<text font-size="16.67" text-anchor="end" transform="translate(880.6 737.4) scale(0.965 1.08)">−0.2</text>
<path d="M890.5 628.5L886.5 628.5" fill="#000000" stroke="#000000" stroke-width="1.111" stroke-linejoin="round"/>
<text font-size="16.67" text-anchor="end" transform="translate(880.6 635.5) scale(0.965 1.08)">0.0</text>
<path d="M890.5 527.5L886.5 527.5" fill="#000000" stroke="#000000" stroke-width="1.111" stroke-linejoin="round"/>
<text font-size="16.67" text-anchor="end" transform="translate(880.6 533.6) scale(0.965 1.08)">0.2</text>
<path d="M890.5 425.5L886.5 425.5" fill="#000000" stroke="#000000" stroke-width="1.111" stroke-linejoin="round"/>
<text font-size="16.67" text-anchor="end" transform="translate(880.6 431.7) scale(0.965 1.08)">0.4</text>
<path d="M890.5 323.5L886.5 323.5" fill="#000000" stroke="#000000" stroke-width="1.111" stroke-linejoin="round"/>
<text font-size="16.67" text-anchor="end" transform="translate(880.6 329.8) scale(0.965 1.08)">0.6</text>
<path d="M890.5 221.5L886.5 221.5" fill="#000000" stroke="#000000" stroke-width="1.111" stroke-linejoin="round"/>
<text font-size="16.67" text-anchor="end" transform="translate(880.6 228) scale(0.965 1.08)">0.8</text>
<path d="M890.5 119.5L886.5 119.5" fill="#000000" stroke="#000000" stroke-width="1.111" stroke-linejoin="round"/>
<text font-size="16.67" text-anchor="end" transform="translate(880.6 126.1) scale(0.965 1.08)">1.0</text>
<text font-size="16.67" text-anchor="middle" transform="translate(830.8 497) rotate(-90) scale(0.94 1.08)">ECG</text>
<path d="M1018 880L1018 110" fill="none" stroke="#808080" stroke-width="2.083" stroke-dasharray="7.708,3.333" stroke-linejoin="round"/>
<path d="M906.5 767.8L909.1 762.5L910.3 759.5L911.6 756.2L914.2 748.7L916.7 740L919.3 730.2L921.9 719.1L924.4 706.3L927 691.6L929.5 675.5L932.1 658.3L935.9 630.7L939.8 603.4L942.3 587.6L943.6 580.8L944.9 575L946.2 570.1L947.5 566.2L948.7 563.2L950 561.4L951.3 560.6L952.6 560.8L953.9 562L955.1 564.2L956.4 567.2L957.7 571L959 575.6L960.3 580.7L962.8 592.6L971.8 637.4L974.3 647.9L975.6 652.4L976.9 656.2L978.2 659.5L979.5 662.3L982 666.9L984.6 671.4L985.9 674.1L987.2 677.3L988.4 681.3L989.7 686.1L991 692L992.3 698.7L996.1 721.2L997.4 727L998.7 730L1000 728.6L1001.2 721.1L1002.5 705.8L1003.8 681.2L1005.1 646.4L1006.4 601.2L1007.6 546.3L1010.2 415.8L1012.8 281.7L1014 224.9L1015.3 181.1L1016.6 154.4L1017.9 147.1L1019.2 160.2L1020.4 192.7L1021.7 241.9L1023 304L1028.1 583.6L1029.4 640.3L1030.7 686.2L1032 720.5L1033.2 743.2L1034.5 755.3L1035.8 758.3L1037.1 753.9L1038.4 744.3L1039.6 731.4L1043.5 688.5L1044.8 676.2L1046 665.8L1047.3 657.1L1048.6 650.2L1049.9 644.6L1051.2 640.3L1052.4 636.8L1053.7 633.9L1055 631.5L1060.1 622.8L1061.4 620.1L1062.7 616.9L1064 613.2L1065.2 609L1067.8 599.5L1070.4 589.1L1072.9 578L1075.5 566.1L1078 553.1L1081.9 532L1085.7 509.6L1094.7 456.2L1097.3 442.4L1099.8 429.7L1102.4 418.5L1103.7 413.6L1104.9 409.3L1106.2 405.6L1107.5 402.6L1108.8 400.1L1110.1 398.3L1111.3 397.1L1112.6 396.4L1113.9 396.3L1115.2 396.9L1116.5 398.1L1117.7 400.1L1119 402.9L1120.3 406.6L1121.6 411L1122.9 416.1L1125.4 427.9L1130.5 453.5L1133.1 467.6L1135.7 483.5L1142.1 526.6L1144.6 541.8L1148.5 563L1151 576.1L1153.6 587.6L1156.1 597.3L1158.7 605.6L1161.3 613.1L1163.8 619.7L1165.1 622.7L1166.4 625.4L1167.7 627.8L1170.2 631.9L1172.8 635.4L1176.6 640.2L1179.2 643.2L1181.7 645.9L1183 647L1184.3 648L1185.6 648.8L1186.9 649.4L1188.1 649.8L1189.4 650L1190.7 650.1L1192 650L1194.5 649.5L1197.1 648.8L1198.4 648.6L1199.7 648.5L1200.9 648.8L1202.2 649.4L1203.5 650.3L1206.1 652.6L1208.6 654.9L1209.9 655.8L1211.2 656.4L1212.5 656.8L1213.7 656.9L1215 656.9L1217.6 656.5L1221.4 655.6L1225.3 654.6L1226.6 654.3L1226.6 654.3" fill="none" stroke="#808080" stroke-width="0.9722" stroke-opacity="0.36" stroke-linecap="square" stroke-linejoin="round"/>
<path d="M906.5 653.9L909.1 653L911.6 651.8L914.2 650.2L915.5 649.2L916.7 647.9L918 646.2L919.3 643.8L920.6 640.6L921.9 636.4L923.1 631.4L925.7 619.2L930.8 593.5L935.9 568.9L941.1 543.3L942.3 537.5L943.6 532.4L944.9 528L946.2 524.6L947.5 522.2L948.7 521L950 520.9L951.3 521.9L952.6 524L953.9 527L955.1 531.1L956.4 536L957.7 541.7L959 548.1L961.5 562.5L965.4 586.2L970.5 618.5L973.1 633.3L974.3 639.8L975.6 645.8L976.9 651.2L978.2 655.9L980.8 664.2L985.9 679.6L987.2 684.1L988.4 689.4L989.7 695.7L991 703L992.3 711.3L996.1 738.8L997.4 746.1L998.7 750.5L1000 750.2L1001.2 743.7L1002.5 729.4L1003.8 705.8L1005.1 672.1L1006.4 628.2L1007.6 574.8L1010.2 447.6L1012.8 317.2L1014 262.2L1015.3 220.1L1016.6 194.8L1017.9 188.9L1019.2 203.1L1020.4 236.8L1021.7 287.2L1023 350.4L1028.1 633L1029.4 689.5L1030.7 735.1L1032 769L1033.2 791.5L1034.5 803.5L1035.8 806.6L1037.1 802.5L1038.4 793.2L1039.6 780.6L1043.5 739.3L1044.8 728L1046 718.8L1047.3 711.6L1048.6 706.2L1049.9 702.1L1051.2 699.1L1052.4 696.6L1055 692.5L1057.6 688.4L1060.1 683.9L1062.7 678.9L1065.2 673.4L1067.8 667.2L1069.1 663.7L1070.4 659.9L1071.6 655.7L1072.9 651.1L1075.5 640.6L1078 628.5L1081.9 608.5L1085.7 587.2L1094.7 536.4L1097.3 523L1099.8 510.8L1102.4 500.1L1103.7 495.5L1104.9 491.5L1106.2 488.1L1107.5 485.3L1108.8 483.1L1110.1 481.7L1111.3 480.9L1112.6 480.9L1113.9 481.6L1115.2 483.1L1116.5 485.4L1117.7 488.3L1119 491.9L1120.3 496L1121.6 500.7L1124.1 511.5L1126.7 523.9L1129.3 538.1L1133.1 561.6L1136.9 585L1144.6 630.4L1148.5 653.6L1151 667.6L1153.6 679.6L1156.1 689.8L1158.7 698.4L1161.3 705.7L1163.8 712.1L1166.4 717.6L1168.9 722.2L1171.5 726L1174.1 729.1L1176.6 731.8L1179.2 733.9L1180.5 734.7L1181.7 735.4L1183 735.9L1184.3 736.3L1185.6 736.6L1186.9 736.7L1188.1 736.8L1189.4 736.6L1190.7 736.4L1194.5 735.1L1195.8 734.9L1197.1 735L1198.4 735.4L1199.7 736L1202.2 737.4L1203.5 738L1204.8 738.3L1206.1 738.2L1207.3 737.9L1212.5 735.9L1213.7 735.7L1215 735.5L1217.6 735.6L1220.2 735.8L1221.4 735.8L1222.7 735.7L1224 735.3L1225.3 734.7L1226.6 733.8L1226.6 733.8" fill="none" stroke="#808080" stroke-width="0.9722" stroke-opacity="0.36" stroke-linecap="square" stroke-linejoin="round"/>
<path d="M906.5 734.4L907.8 733.5L909.1 732.2L910.3 730.8L912.9 727.4L914.2 725.4L915.5 723.2L916.7 720.7L918 717.9L919.3 714.6L920.6 711L923.1 702.6L925.7 693.1L928.3 682.2L930.8 669.7L933.4 655.6L941.1 611L943.6 598.5L944.9 593.1L946.2 588.4L947.5 584.6L948.7 581.8L950 580.2L951.3 579.8L952.6 580.8L953.9 583.1L955.1 586.6L956.4 590.9L957.7 596.1L960.3 607.8L962.8 620.7L966.7 641.5L974.3 684L976.9 696.2L978.2 701.5L979.5 706L980.8 709.8L982 713L985.9 721.3L987.2 724.7L988.4 729.2L989.7 735L991 742.2L992.3 750.9L996.1 780.5L997.4 788.4L998.7 792.9L1000 792.4L1001.2 785.3L1002.5 770.1L1003.8 745.7L1005.1 711.4L1006.4 666.9L1007.6 613L1010.2 484L1012.8 350.2L1014 293.1L1015.3 249.2L1016.6 222.6L1017.9 215.9L1019.2 230L1020.4 263.8L1021.7 314.6L1023 378L1028.1 659.6L1029.4 715.9L1030.7 761.3L1032 794.9L1033.2 817.1L1034.5 828.7L1035.8 831.3L1037.1 826.6L1038.4 816.6L1039.6 803.4L1043.5 760.2L1044.8 748.3L1046 738.3L1047.3 730.2L1048.6 723.8L1049.9 718.8L1051.2 714.7L1052.4 711.3L1053.7 708.4L1056.3 703.5L1060.1 696.6L1061.4 694L1062.7 690.9L1064 687.4L1065.2 683.5L1067.8 674.7L1070.4 664.8L1072.9 654L1075.5 642.2L1078 629.4L1081.9 608.6L1085.7 586.5L1090.8 555.5L1094.7 532L1097.3 517.5L1099.8 504.7L1101.1 499.2L1102.4 494.2L1103.7 489.8L1104.9 486L1106.2 482.8L1107.5 480.1L1108.8 478L1110.1 476.6L1111.3 475.7L1112.6 475.5L1113.9 476.1L1115.2 477.4L1116.5 479.4L1117.7 482.1L1119 485.4L1120.3 489.4L1121.6 493.9L1124.1 504.4L1126.7 516.5L1129.3 530.2L1133.1 552.7L1139.5 591L1144.6 620.5L1147.2 634.3L1149.7 646.9L1152.3 658.2L1154.9 668.4L1157.4 677.3L1158.7 681.1L1160 684.3L1161.3 687L1162.5 689.3L1163.8 691.1L1165.1 692.6L1167.7 695.1L1175.3 702.2L1176.6 703.2L1177.9 704L1179.2 704.5L1180.5 704.9L1181.7 705L1185.6 705L1194.5 705L1200.9 704.7L1203.5 704.2L1207.3 703.1L1211.2 702.2L1212.5 701.8L1213.7 701.2L1216.3 699.7L1218.9 698.1L1220.2 697.6L1222.7 696.8L1225.3 696L1226.6 695.4L1226.6 695.4" fill="none" stroke="#808080" stroke-width="0.9722" stroke-opacity="0.36" stroke-linecap="square" stroke-linejoin="round"/>
<path d="M906.5 696.2L907.8 695.7L909.1 694.9L910.3 693.8L911.6 692.4L912.9 690.7L914.2 688.8L916.7 684.3L919.3 679.1L920.6 676.3L921.9 673.1L923.1 669.5L924.4 665.4L925.7 660.7L927 655.4L929.5 643.3L932.1 629.9L934.7 615.4L938.5 592.2L941.1 577L942.3 570.2L943.6 564.3L944.9 559.3L946.2 555.2L947.5 552.2L948.7 550L950 548.8L951.3 548.5L952.6 549.1L953.9 550.9L955.1 553.6L956.4 557.5L957.7 562.3L959 568L960.3 574.4L962.8 588.8L970.5 635L973.1 648.4L975.6 659.9L976.9 664.8L978.2 669.3L979.5 673.2L980.8 676.7L983.3 682.9L985.9 689.2L987.2 693L988.4 697.5L989.7 703.1L991 709.7L992.3 717.3L996.1 743.1L997.4 750L998.7 754.1L1000 753.9L1001.2 747.7L1002.5 733.9L1003.8 711.1L1005.1 678.4L1006.4 635.5L1007.6 583L1010.2 457.1L1012.8 327L1014 271.7L1015.3 229.2L1016.6 203.3L1017.9 196.5L1019.2 209.7L1020.4 241.9L1021.7 290.8L1023 352.5L1028.1 631.7L1029.4 688.3L1030.7 734L1032 768.1L1033.2 790.6L1034.5 802.6L1035.8 805.4L1037.1 801L1038.4 791.4L1039.6 778.6L1043.5 735.5L1044.8 723.1L1046 712.7L1047.3 704.2L1048.6 697.5L1049.9 692.4L1051.2 688.5L1052.4 685.5L1055 680.5L1064 664.5L1065.2 661.8L1066.5 658.8L1067.8 655.3L1069.1 651.4L1070.4 647L1072.9 637L1075.5 625.7L1078 613.4L1080.6 600.3L1084.4 579.4L1089.6 550.2L1096 512.9L1098.5 499.4L1101.1 487.6L1102.4 482.4L1103.7 477.7L1104.9 473.6L1106.2 470.2L1107.5 467.3L1108.8 465.1L1110.1 463.5L1111.3 462.5L1112.6 462.2L1113.9 462.6L1115.2 463.7L1116.5 465.6L1117.7 468.4L1119 471.9L1120.3 476.3L1121.6 481.4L1122.9 487.1L1125.4 500L1129.3 521L1134.4 550.4L1145.9 618.7L1148.5 632.1L1151 643.7L1153.6 653.8L1157.4 667.6L1160 676.1L1161.3 680L1162.5 683.5L1163.8 686.5L1165.1 689L1166.4 691.2L1167.7 693L1170.2 696.1L1172.8 698.7L1174.1 699.9L1175.3 701L1176.6 701.8L1177.9 702.4L1179.2 702.9L1181.7 703.5L1185.6 704.2L1188.1 704.4L1193.3 704.7L1198.4 705.4L1200.9 705.3L1204.8 704.9L1208.6 704.7L1211.2 704.1L1215 702.8L1218.9 701.5L1222.7 700.4L1226.6 699.5L1226.6 699.5" fill="none" stroke="#808080" stroke-width="0.9722" stroke-opacity="0.36" stroke-linecap="square" stroke-linejoin="round"/>
<path d="M906.5 699.6L909.1 698.9L910.3 698.4L911.6 697.7L912.9 696.7L914.2 695.5L915.5 694.1L916.7 692.5L918 690.6L919.3 688.4L920.6 685.8L921.9 682.5L923.1 678.4L924.4 673.7L925.7 668.2L928.3 655.8L932.1 635.1L935.9 612.9L939.8 590.4L942.3 577.1L943.6 571.3L944.9 566.2L946.2 562L947.5 558.8L948.7 556.6L950 555.5L951.3 555.5L952.6 556.7L953.9 558.9L955.1 562.2L956.4 566.5L957.7 571.7L959 577.6L961.5 591.1L965.4 613.5L969.2 636L971.8 650.1L974.3 663.3L976.9 674.8L978.2 679.7L979.5 684L980.8 687.7L983.3 693.9L984.6 697L985.9 700.5L987.2 704.7L988.4 709.8L989.7 716L991 723.4L993.6 740.9L996.1 758.8L997.4 765.7L998.7 769.6L1000 768.8L1001.2 762L1002.5 747.4L1003.8 723.8L1005.1 690.2L1006.4 646.4L1007.6 592.9L1010.2 464.5L1012.8 331L1014 274.1L1015.3 230.3L1016.6 203.5L1017.9 196.5L1019.2 210.1L1020.4 243.4L1021.7 293.6L1023 356.7L1028.1 638.6L1029.4 695.1L1030.7 740.5L1032 774.1L1033.2 796.1L1034.5 807.4L1035.8 809.7L1037.1 805L1038.4 795.3L1039.6 782.7L1043.5 742.3L1044.8 731.1L1046 721.7L1047.3 713.9L1048.6 707.8L1049.9 703L1051.2 699.2L1052.4 696.2L1055 691.3L1057.6 686.7L1060.1 681.8L1062.7 676.3L1065.2 670.2L1066.5 666.9L1067.8 663.2L1069.1 659.1L1071.6 649.8L1074.2 639L1076.8 627.1L1079.3 614.3L1083.2 593.9L1087 572.3L1097.3 513.7L1099.8 501.2L1102.4 490.7L1103.7 486.1L1104.9 482.1L1106.2 478.8L1107.5 476L1108.8 474L1110.1 472.8L1111.3 472.3L1112.6 472.6L1113.9 473.6L1115.2 475.4L1116.5 477.8L1117.7 480.7L1119 484.2L1120.3 488.1L1121.6 492.6L1122.9 497.5L1124.1 502.9L1126.7 515.3L1129.3 529.4L1131.8 544.9L1140.8 601.2L1143.3 615.7L1147.2 636L1149.7 648.6L1152.3 660L1153.6 665.1L1154.9 669.7L1156.1 673.9L1158.7 681.2L1161.3 687.5L1163.8 693.1L1166.4 698L1168.9 702.2L1171.5 705.8L1174.1 708.9L1175.3 710.3L1176.6 711.4L1177.9 712.4L1179.2 713.1L1180.5 713.6L1183 714.3L1185.6 714.7L1188.1 714.8L1190.7 714.4L1195.8 713.4L1202.2 712.6L1204.8 712.2L1207.3 712.1L1211.2 712.2L1212.5 712L1213.7 711.8L1216.3 710.9L1220.2 709.3L1224 707.9L1225.3 707.2L1226.6 706.2L1226.6 706.2" fill="none" stroke="#808080" stroke-width="0.9722" stroke-opacity="0.36" stroke-linecap="square" stroke-linejoin="round"/>
<path d="M906.5 707.2L907.8 706.2L909.1 704.9L910.3 703.4L911.6 701.5L914.2 697.2L919.3 688.1L920.6 685.4L921.9 682.2L923.1 678.4L924.4 674L925.7 669L928.3 657.6L930.8 644.8L933.4 631L935.9 616.1L941.1 585.5L942.3 578.8L943.6 572.9L944.9 568L946.2 564.3L947.5 561.6L948.7 560L950 559.2L951.3 559.1L952.6 559.8L953.9 561.3L955.1 563.7L956.4 567.1L957.7 571.5L959 576.8L960.3 582.9L962.8 596.8L970.5 639.8L973.1 653.2L975.6 665.5L976.9 671L978.2 676L979.5 680.4L980.8 684.4L983.3 691.2L985.9 698L987.2 702L988.4 706.7L989.7 712.4L991 719.1L992.3 727L996.1 753.7L997.4 761.1L998.7 765.6L1000 765.6L1001.2 759.3L1002.5 745.3L1003.8 722L1005.1 688.6L1006.4 645L1007.6 591.8L1010.2 464.6L1012.8 332.9L1014 276.8L1015.3 233.8L1016.6 207.6L1017.9 201.1L1019.2 215.1L1020.4 248.6L1021.7 299L1023 362.2L1028.1 643.4L1029.4 699.5L1030.7 744.7L1032 778.3L1033.2 800.5L1034.5 812.3L1035.8 815.3L1037.1 811.3L1038.4 802.2L1039.6 789.9L1043.5 748.6L1044.8 736.6L1046 726.3L1047.3 717.8L1048.6 711L1049.9 705.7L1051.2 701.5L1052.4 698.4L1053.7 695.8L1056.3 691.6L1058.8 687.3L1061.4 682.4L1064 676.6L1066.5 669.8L1069.1 661.8L1071.6 652.5L1074.2 641.8L1076.8 629.9L1079.3 616.8L1083.2 595.7L1088.3 566.3L1096 520.6L1098.5 507.2L1101.1 495.5L1102.4 490.5L1103.7 486L1104.9 482.1L1106.2 478.8L1107.5 476.2L1108.8 474.1L1110.1 472.6L1111.3 471.7L1112.6 471.3L1113.9 471.5L1115.2 472.3L1116.5 473.6L1117.7 475.7L1119 478.5L1120.3 482L1121.6 486.2L1122.9 491.3L1124.1 497L1126.7 510.2L1129.3 524.8L1133.1 548.1L1143.3 612.2L1145.9 626.1L1148.5 638.4L1151 649.3L1153.6 659.1L1156.1 667.8L1157.4 671.7L1158.7 675.1L1160 678.1L1162.5 683.4L1165.1 688.2L1167.7 692.3L1168.9 694L1170.2 695.5L1172.8 697.8L1176.6 700.7L1179.2 702.4L1180.5 703.1L1181.7 703.6L1184.3 704.3L1186.9 704.6L1189.4 704.8L1192 704.6L1198.4 703.6L1199.7 703.7L1202.2 704.1L1204.8 704.7L1206.1 704.9L1207.3 705L1208.6 704.8L1209.9 704.4L1212.5 703.2L1215 701.9L1216.3 701.3L1217.6 700.9L1220.2 700.4L1224 699.8L1225.3 699.4L1226.6 698.8L1226.6 698.8" fill="none" stroke="#808080" stroke-width="0.9722" stroke-opacity="0.36" stroke-linecap="square" stroke-linejoin="round"/>
<path d="M906.5 699.2L907.8 698.6L909.1 697.7L910.3 696.7L912.9 694.1L915.5 691L916.7 689.2L918 687.1L919.3 684.7L920.6 681.9L921.9 678.5L923.1 674.6L924.4 670L925.7 664.8L927 658.9L929.5 645.5L938.5 595.1L941.1 582.1L943.6 570.5L944.9 565.7L946.2 561.6L947.5 558.5L948.7 556.4L950 555.4L951.3 555.3L952.6 556.3L953.9 558.3L955.1 561.3L956.4 565.4L957.7 570.5L959 576.4L961.5 590.1L969.2 634.1L971.8 647.3L974.3 659.2L976.9 669.8L979.5 679.1L982 687.2L985.9 698.7L987.2 703L988.4 707.9L989.7 713.8L991 720.7L992.3 728.6L996.1 754.6L997.4 761.5L998.7 765.4L1000 765L1001.2 758.5L1002.5 744.3L1003.8 721.1L1005.1 687.9L1006.4 644.3L1007.6 590.9L1008.9 529.4L1012.8 328.2L1014 270.9L1015.3 226.6L1016.6 199.5L1017.9 192.4L1019.2 206.3L1020.4 240.1L1021.7 291.2L1023 355.4L1028.1 642.8L1029.4 700.4L1030.7 746.8L1032 781.4L1033.2 804.4L1034.5 816.8L1035.8 820.2L1037.1 816.6L1038.4 807.9L1039.6 795.8L1043.5 754.3L1044.8 742L1046 731.4L1047.3 722.5L1048.6 715.4L1049.9 709.9L1051.2 705.7L1052.4 702.5L1053.7 699.9L1057.6 693L1058.8 690.5L1061.4 684.6L1064 678L1066.5 671L1069.1 663.1L1070.4 658.7L1071.6 653.9L1074.2 642.9L1076.8 630.3L1081.9 603L1087 575.2L1089.6 560.2L1096 521.5L1098.5 507.7L1101.1 495.5L1102.4 490L1103.7 485L1104.9 480.7L1106.2 476.9L1107.5 473.8L1108.8 471.3L1110.1 469.5L1111.3 468.4L1112.6 467.9L1113.9 468.2L1115.2 469.1L1116.5 470.8L1117.7 473.1L1119 476L1120.3 479.5L1121.6 483.5L1122.9 488L1124.1 493L1125.4 498.5L1126.7 504.7L1129.3 518.7L1147.2 625.8L1149.7 639.7L1152.3 651.9L1154.9 662.3L1157.4 671.1L1160 678.9L1162.5 685.8L1165.1 691.9L1167.7 697.2L1170.2 701.6L1172.8 705.2L1175.3 708.3L1176.6 709.7L1177.9 710.9L1179.2 711.9L1180.5 712.6L1181.7 713L1183 713.1L1184.3 712.9L1188.1 711.9L1189.4 711.7L1192 711.7L1194.5 711.7L1195.8 711.6L1197.1 711.4L1199.7 710.6L1203.5 709.2L1206.1 708.4L1208.6 707.8L1209.9 707.7L1211.2 707.7L1213.7 708L1215 708.2L1216.3 708.2L1217.6 708.1L1218.9 707.6L1221.4 706.3L1224 705.2L1226.6 704.3L1226.6 704.3" fill="none" stroke="#808080" stroke-width="0.9722" stroke-opacity="0.36" stroke-linecap="square" stroke-linejoin="round"/>
<path d="M906.5 703.1L907.8 702.1L909.1 700.7L910.3 699L912.9 695.1L915.5 690.8L916.7 688.5L918 686L919.3 683.1L920.6 679.8L921.9 676L923.1 671.8L924.4 667L927 656.1L929.5 643.6L932.1 629.7L935.9 607.1L939.8 584.5L941.1 577.6L942.3 571.4L943.6 565.9L944.9 561.2L946.2 557.2L947.5 554.1L948.7 551.7L950 550.1L951.3 549.4L952.6 549.9L953.9 551.5L955.1 554.5L956.4 558.8L957.7 564.4L959 571.1L961.5 586.2L965.4 609.7L969.2 631.7L971.8 645.5L974.3 658L975.6 663.5L976.9 668.5L978.2 672.9L979.5 676.9L982 683.8L984.6 690.6L985.9 694.4L987.2 698.8L988.4 703.8L989.7 709.8L991 716.8L992.3 724.8L996.1 750.9L997.4 757.6L998.7 761.3L1000 760.3L1001.2 753L1002.5 737.8L1003.8 713.6L1005.1 679.3L1006.4 634.9L1007.6 581.2L1010.2 453.5L1012.8 322.7L1014 267.5L1015.3 225.1L1016.6 199.4L1017.9 192.9L1019.2 206.4L1020.4 239L1021.7 288.2L1023 350.1L1028.1 631.7L1029.4 689.8L1030.7 737.3L1032 773.5L1033.2 798.1L1034.5 812L1035.8 816.6L1037.1 813.4L1038.4 804.7L1039.6 792.3L1043.5 749.7L1044.8 737.6L1046 727.3L1047.3 719L1048.6 712.5L1049.9 707.6L1051.2 703.8L1052.4 700.9L1053.7 698.5L1058.8 689.9L1061.4 684.7L1064 678.7L1066.5 672.1L1069.1 664.8L1071.6 656.4L1074.2 646.4L1076.8 635L1080.6 615.9L1087 582.6L1089.6 568.3L1093.4 545.5L1097.3 522.9L1099.8 509.3L1102.4 497.4L1103.7 492.2L1104.9 487.5L1106.2 483.4L1107.5 479.9L1108.8 477.1L1110.1 475L1111.3 473.5L1112.6 472.6L1113.9 472.2L1115.2 472.3L1116.5 472.8L1117.7 474L1119 475.8L1120.3 478.3L1121.6 481.5L1122.9 485.5L1124.1 490.2L1125.4 495.4L1128 507.4L1130.5 521L1139.5 572.3L1142.1 587.5L1145.9 612.4L1148.5 628.9L1149.7 636.4L1151 643.3L1152.3 649.3L1153.6 654.7L1154.9 659.5L1157.4 667.6L1161.3 678.4L1163.8 685.3L1166.4 691.6L1168.9 696.9L1171.5 701.2L1174.1 704.8L1175.3 706.3L1176.6 707.6L1177.9 708.5L1179.2 709.3L1181.7 710.3L1189.4 712.7L1190.7 712.9L1192 713L1194.5 712.9L1202.2 711.7L1208.6 711.3L1211.2 710.6L1217.6 708.5L1220.2 708.1L1222.7 707.7L1224 707.5L1225.3 707L1226.6 706.3L1226.6 706.3" fill="none" stroke="#808080" stroke-width="0.9722" stroke-opacity="0.36" stroke-linecap="square" stroke-linejoin="round"/>
<path d="M906.5 701.1L910.3 695.5L912.9 692.3L915.5 689.5L916.7 687.9L918 686L919.3 683.5L920.6 680.4L921.9 676.6L923.1 672.1L924.4 666.9L927 654.9L929.5 641.3L933.4 619.2L938.5 589.3L941.1 576.1L942.3 570.5L943.6 565.5L944.9 561.5L946.2 558.3L947.5 556.1L948.7 554.9L950 554.7L951.3 555.7L952.6 557.7L953.9 560.8L955.1 564.9L956.4 569.9L957.7 575.7L960.3 588.5L966.7 622.7L974.3 664.4L975.6 670.2L976.9 675.3L978.2 679.6L979.5 683.3L982 689.6L984.6 695.8L985.9 699.5L987.2 703.9L988.4 709.2L989.7 715.5L991 722.9L993.6 740.3L996.1 757.8L997.4 764.4L998.7 767.9L1000 766.7L1001.2 759.1L1002.5 743.7L1003.8 718.8L1005.1 683.8L1006.4 638.2L1007.6 583L1010.2 452L1012.8 318.4L1014 262.4L1015.3 219.8L1016.6 194.5L1017.9 188.9L1019.2 203.6L1020.4 237.6L1021.7 288.3L1023 351.5L1028.1 634.3L1029.4 691.5L1030.7 737.9L1032 772.6L1033.2 795.8L1034.5 808.4L1035.8 811.7L1037.1 807.6L1038.4 798.3L1039.6 785.5L1043.5 743.4L1044.8 731.7L1046 721.9L1047.3 714L1048.6 707.9L1049.9 703.2L1051.2 699.5L1052.4 696.6L1053.7 694.3L1060.1 683.6L1061.4 681L1062.7 678L1065.2 671.3L1067.8 663.6L1070.4 655.2L1072.9 645.5L1075.5 634.4L1078 622.3L1080.6 609.2L1083.2 595.3L1087 572.7L1092.1 541.9L1096 520.3L1098.5 506.8L1101.1 495L1102.4 490L1103.7 485.6L1104.9 481.8L1106.2 478.7L1107.5 476.1L1108.8 474L1110.1 472.4L1111.3 471.3L1112.6 470.8L1113.9 470.8L1115.2 471.6L1116.5 473L1117.7 475.3L1119 478.2L1120.3 481.9L1121.6 486.1L1122.9 490.8L1125.4 501.7L1128 514.3L1130.5 528.4L1133.1 543.7L1144.6 615.3L1147.2 629.4L1149.7 641.8L1152.3 652.4L1156.1 666.8L1158.7 675.9L1161.3 684.2L1162.5 687.8L1163.8 690.9L1165.1 693.6L1166.4 696L1168.9 699.9L1171.5 703.1L1174.1 706L1176.6 708.5L1179.2 710.5L1180.5 711.3L1181.7 711.9L1183 712.4L1184.3 712.6L1185.6 712.7L1186.9 712.7L1189.4 712.2L1193.3 711.4L1195.8 711.2L1198.4 711.4L1203.5 712.2L1206.1 712.3L1208.6 712L1211.2 711.4L1217.6 709.8L1220.2 709.1L1222.7 708L1225.3 706.6L1226.6 705.8L1226.6 705.8" fill="none" stroke="#808080" stroke-width="0.9722" stroke-opacity="0.36" stroke-linecap="square" stroke-linejoin="round"/>
<path d="M906.5 705L910.3 702.5L911.6 701.5L912.9 700.4L914.2 698.9L915.5 697.2L916.7 695.1L918 692.5L919.3 689.4L920.6 685.8L921.9 681.7L923.1 677.2L925.7 666.8L928.3 654.9L930.8 641.7L933.4 627.4L941.1 582.3L942.3 576L943.6 570.5L944.9 565.8L946.2 561.9L947.5 559L948.7 557L950 556L951.3 556L952.6 557.3L953.9 559.7L955.1 563.2L956.4 567.9L957.7 573.5L960.3 586.7L965.4 616L971.8 652.8L974.3 665.8L975.6 671.5L976.9 676.5L978.2 681L980.8 688.5L984.6 698.8L985.9 702.5L987.2 706.8L988.4 711.6L989.7 717.4L991 724L992.3 731.7L996.1 756.7L997.4 763.1L998.7 766.5L1000 765.5L1001.2 758.4L1002.5 743.9L1003.8 720.5L1005.1 687.2L1006.4 643.7L1007.6 590.6L1008.9 529.3L1012.8 329.4L1014 272.7L1015.3 229.2L1016.6 203L1017.9 196.5L1019.2 210.7L1020.4 244.6L1021.7 295.2L1023 358.6L1028.1 639.7L1029.4 695.4L1030.7 740L1032 772.7L1033.2 793.9L1034.5 804.6L1035.8 806.5L1037.1 801.5L1038.4 791.5L1039.6 778.6L1043.5 736.9L1044.8 725.4L1046 715.8L1047.3 708.1L1048.6 702.2L1049.9 697.7L1051.2 694.2L1052.4 691.5L1055 687.1L1057.6 682.7L1058.8 680.2L1061.4 674.5L1064 668L1067.8 657.3L1070.4 649.4L1071.6 644.9L1072.9 640L1074.2 634.7L1076.8 622.5L1079.3 608.7L1084.4 579.1L1093.4 527.9L1097.3 506.8L1099.8 494.5L1101.1 489.1L1102.4 484.3L1103.7 480.2L1104.9 476.6L1106.2 473.7L1107.5 471.5L1108.8 469.9L1110.1 469L1111.3 468.8L1112.6 469.2L1113.9 470.4L1115.2 472.2L1116.5 474.7L1117.7 478L1119 481.9L1120.3 486.4L1121.6 491.6L1124.1 503.5L1126.7 516.9L1129.3 531.6L1131.8 547.6L1139.5 597.1L1142.1 611.9L1144.6 625.7L1147.2 638.3L1149.7 650L1152.3 660.6L1154.9 670.1L1157.4 678.5L1160 685.7L1161.3 688.8L1162.5 691.6L1163.8 694.1L1165.1 696.2L1166.4 698.2L1167.7 699.8L1168.9 701.3L1170.2 702.5L1171.5 703.5L1172.8 704.4L1174.1 705.1L1175.3 705.6L1177.9 706.3L1180.5 706.6L1183 706.7L1189.4 706.5L1193.3 706.9L1197.1 707.3L1198.4 707.3L1199.7 707.2L1200.9 706.9L1202.2 706.5L1203.5 705.8L1207.3 703.4L1208.6 702.8L1209.9 702.5L1211.2 702.5L1212.5 702.7L1217.6 704.2L1218.9 704.3L1220.2 704.3L1221.4 704.1L1222.7 703.8L1224 703.4L1225.3 702.8L1226.6 702L1226.6 702" fill="none" stroke="#808080" stroke-width="0.9722" stroke-opacity="0.36" stroke-linecap="square" stroke-linejoin="round"/>
<path d="M906.5 704.1L907.8 703.8L909.1 703.4L910.3 702.8L911.6 702L912.9 700.9L914.2 699.5L915.5 697.8L916.7 695.8L918 693.3L919.3 690.6L920.6 687.5L921.9 684.2L923.1 680.5L924.4 676.4L925.7 671.9L927 667L929.5 655.9L932.1 643.3L935.9 622.9L943.6 581L944.9 575L946.2 569.8L947.5 565.5L948.7 562.1L950 559.9L951.3 558.8L952.6 559L953.9 560.4L955.1 562.9L956.4 566.5L957.7 571L959 576.2L960.3 582.2L962.8 595.5L973.1 652.2L975.6 665.4L978.2 677.3L979.5 682.3L980.8 686.5L982 690L985.9 699L987.2 702.8L988.4 707.5L989.7 713.3L991 720L993.6 736L996.1 752.6L997.4 759.3L998.7 763.6L1000 763.9L1001.2 758.6L1002.5 745.9L1003.8 724.3L1005.1 692.8L1006.4 650.9L1007.6 599.2L1008.9 539.4L1012.8 343.5L1014 287.9L1015.3 245L1016.6 218.9L1017.9 212.3L1019.2 225.9L1020.4 258.9L1021.7 308.6L1023 370.9L1028.1 648.3L1029.4 703.3L1030.7 747.1L1032 779.1L1033.2 799.6L1034.5 809.6L1035.8 810.8L1037.1 805.1L1038.4 794.6L1039.6 781.2L1042.2 752.3L1043.5 739.2L1044.8 727.8L1046 718.4L1047.3 711.1L1048.6 705.5L1049.9 701.2L1051.2 697.9L1052.4 695.2L1058.8 682.9L1061.4 677.1L1064 670.3L1066.5 662.4L1069.1 653.5L1071.6 643.6L1074.2 632.7L1076.8 620.7L1079.3 607.6L1083.2 586.4L1088.3 556.1L1092.1 534L1094.7 520.5L1097.3 507.9L1099.8 496.3L1102.4 486L1103.7 481.6L1104.9 477.9L1106.2 474.9L1107.5 472.7L1108.8 471.3L1110.1 470.7L1111.3 470.9L1112.6 471.8L1113.9 473.5L1115.2 476L1116.5 479L1117.7 482.8L1119 487L1120.3 491.8L1122.9 502.8L1125.4 515.5L1128 529.6L1131.8 552.5L1140.8 606.9L1143.3 621.6L1145.9 635.1L1148.5 647.2L1151 658.1L1153.6 668L1156.1 676.9L1158.7 684.7L1160 688.1L1161.3 691.2L1162.5 694L1163.8 696.5L1165.1 698.8L1166.4 700.7L1167.7 702.3L1168.9 703.6L1170.2 704.7L1171.5 705.4L1172.8 706L1175.3 706.7L1177.9 707.4L1184.3 709.5L1185.6 709.7L1186.9 709.6L1188.1 709.5L1194.5 707.9L1197.1 707.7L1202.2 707.7L1204.8 707.6L1207.3 707.4L1215 706.2L1216.3 705.8L1217.6 705.1L1218.9 704.2L1220.2 703.1L1226.6 696.5L1226.6 696.5" fill="none" stroke="#808080" stroke-width="0.9722" stroke-opacity="0.36" stroke-linecap="square" stroke-linejoin="round"/>
<path d="M906.5 702.7L914.2 694.7L915.5 693.2L916.7 691.3L918 689.1L919.3 686.4L920.6 683.3L921.9 679.9L923.1 676L924.4 671.7L925.7 667L928.3 656.3L930.8 644L933.4 630.3L937.2 608.3L941.1 586.3L942.3 579.7L943.6 573.6L944.9 568.2L946.2 563.7L947.5 560L948.7 557.2L950 555.3L951.3 554.3L952.6 554.3L953.9 555.2L955.1 557.2L956.4 560.1L957.7 563.8L959 568.3L960.3 573.3L962.8 584.8L965.4 598.1L967.9 612.9L971.8 635.4L974.3 648.6L976.9 659.8L979.5 669.5L982 677.9L987.2 693.2L988.4 697.9L989.7 703.4L991 710L992.3 717.7L997.4 751L998.7 755.7L1000 756.2L1001.2 750.9L1002.5 738.2L1003.8 716.7L1005.1 685.2L1006.4 643.3L1007.6 591.6L1008.9 531.5L1012.8 333.8L1014 277.3L1015.3 233.6L1016.6 207L1017.9 200.1L1019.2 213.8L1020.4 247.2L1021.7 297.5L1023 360.8L1028.1 644.4L1029.4 701.5L1030.7 747.7L1032 782.1L1033.2 805L1034.5 817.3L1035.8 820.6L1037.1 816.6L1038.4 807.4L1039.6 794.9L1043.5 752.2L1044.8 739.9L1046 729.5L1047.3 721.2L1048.6 714.9L1049.9 710.2L1051.2 706.7L1052.4 704.1L1055 699.8L1057.6 695.5L1058.8 693L1060.1 690.3L1061.4 687.3L1064 680.4L1066.5 672.5L1070.4 659.8L1072.9 650.4L1075.5 639.6L1078 627.3L1081.9 607.1L1084.4 592.6L1088.3 569.3L1093.4 537.6L1097.3 515.5L1099.8 502.1L1101.1 496L1102.4 490.6L1103.7 485.9L1104.9 481.8L1106.2 478.3L1107.5 475.4L1108.8 473L1110.1 471.2L1111.3 470L1112.6 469.5L1113.9 469.6L1115.2 470.4L1116.5 471.9L1117.7 474.2L1119 477.1L1120.3 480.6L1121.6 484.7L1122.9 489.3L1125.4 500L1128 512.4L1130.5 526.5L1133.1 542.2L1139.5 583.3L1143.3 605.9L1147.2 627.4L1149.7 640.7L1152.3 652.5L1154.9 662.7L1157.4 671.8L1160 680.3L1162.5 687.8L1163.8 691L1165.1 693.8L1166.4 696.2L1167.7 698.2L1170.2 701.7L1174.1 706.3L1175.3 707.7L1176.6 708.8L1177.9 709.7L1179.2 710.4L1184.3 712.2L1186.9 713.8L1188.1 714.7L1189.4 715.3L1190.7 715.6L1192 715.6L1193.3 715.3L1197.1 713.8L1199.7 713.2L1202.2 712.6L1204.8 711.6L1208.6 709.8L1211.2 709L1215 708.1L1222.7 705.7L1224 705.2L1225.3 704.6L1226.6 703.8L1226.6 703.8" fill="none" stroke="#808080" stroke-width="0.9722" stroke-opacity="0.36" stroke-linecap="square" stroke-linejoin="round"/>
<path d="M906.5 702.7L909.1 700.2L912.9 696.3L915.5 693.7L916.7 692.1L918 690.1L919.3 687.6L920.6 684.4L921.9 680.6L923.1 676.1L924.4 670.9L927 659L929.5 645.8L932.1 631.7L935.9 609.2L939.8 586.9L942.3 573.7L943.6 567.9L944.9 562.8L946.2 558.5L947.5 555.3L948.7 553.1L950 552.1L951.3 552.5L952.6 554L953.9 556.7L955.1 560.5L956.4 565.2L957.7 570.6L960.3 583L965.4 610.2L970.5 638.8L973.1 652.9L975.6 665.5L976.9 670.9L978.2 675.8L979.5 680.1L980.8 683.9L983.3 690.6L985.9 697L987.2 700.8L988.4 705.4L989.7 711.1L991 718.2L992.3 726.6L996.1 754.9L997.4 762.3L998.7 766.4L1000 765.6L1001.2 758.2L1002.5 742.9L1003.8 718.4L1005.1 683.9L1006.4 639.4L1007.6 585.5L1010.2 457.4L1012.8 325.4L1014 269.4L1015.3 226.2L1016.6 199.9L1017.9 192.9L1019.2 206.3L1020.4 239.2L1021.7 289.1L1023 352L1028.1 639.1L1029.4 698.4L1030.7 746.9L1032 783.7L1033.2 808.6L1034.5 822.6L1035.8 827.1L1037.1 824L1038.4 815.2L1039.6 802.8L1043.5 759.8L1044.8 747.2L1046 736.4L1047.3 727.6L1048.6 720.5L1049.9 714.9L1051.2 710.6L1052.4 707.2L1053.7 704.4L1057.6 697.2L1060.1 692.1L1062.7 686.4L1065.2 679.9L1066.5 676.3L1067.8 672.2L1069.1 667.7L1070.4 662.7L1072.9 651.3L1083.2 601.9L1085.7 588.1L1088.3 572.8L1094.7 532.7L1097.3 518.8L1099.8 506.9L1102.4 496.4L1104.9 487.1L1106.2 483L1107.5 479.4L1108.8 476.2L1110.1 473.6L1111.3 471.6L1112.6 470.2L1113.9 469.3L1115.2 469L1116.5 469.3L1117.7 470.1L1119 471.7L1120.3 474.1L1121.6 477.4L1122.9 481.4L1124.1 486.4L1125.4 492L1128 504.9L1131.8 526.3L1135.7 548.7L1139.5 572.4L1145.9 612.2L1148.5 626.8L1151 640.2L1153.6 652.4L1156.1 663.3L1158.7 673L1161.3 681.5L1162.5 685.3L1163.8 688.6L1165.1 691.5L1166.4 694L1168.9 698.2L1171.5 701.8L1174.1 705.2L1176.6 708.1L1177.9 709.3L1179.2 710.3L1180.5 711.1L1183 712.3L1185.6 713.2L1188.1 714L1189.4 714.2L1190.7 714.2L1192 714.1L1194.5 713.4L1197.1 712.8L1198.4 712.7L1199.7 712.8L1200.9 713.1L1206.1 714.6L1207.3 714.8L1208.6 714.9L1209.9 714.8L1211.2 714.6L1212.5 714.1L1215 712.8L1217.6 711.4L1218.9 710.9L1221.4 710.4L1222.7 710.2L1224 709.7L1225.3 709L1226.6 707.9L1226.6 707.9" fill="none" stroke="#808080" stroke-width="0.9722" stroke-opacity="0.36" stroke-linecap="square" stroke-linejoin="round"/>
<path d="M906.5 701.5L910.3 698L911.6 696.7L912.9 695L914.2 693.1L915.5 690.8L916.7 688.1L918 685L919.3 681.5L920.6 677.4L921.9 672.9L924.4 662.2L927 650.2L929.5 637.3L932.1 623.4L935.9 600.5L938.5 585.5L939.8 578.6L941.1 572.4L942.3 567L943.6 562.4L944.9 558.4L946.2 555.3L947.5 553L948.7 551.6L950 551.2L951.3 551.9L952.6 553.8L953.9 556.8L955.1 560.7L956.4 565.5L957.7 570.9L960.3 583.1L962.8 596.9L965.4 611.9L970.5 642.6L973.1 656L974.3 661.9L975.6 667.3L976.9 672.2L979.5 680.7L982 688.2L984.6 695.5L985.9 699.6L987.2 704.1L988.4 709.5L989.7 715.8L991 723.3L993.6 740.7L994.8 749.9L996.1 758.1L997.4 764.3L998.7 767.2L1000 765.3L1001.2 757L1002.5 741L1003.8 715.8L1005.1 680.8L1006.4 635.6L1007.6 580.8L1010.2 450.3L1012.8 315.8L1014 258.7L1015.3 214.9L1016.6 188.4L1017.9 181.7L1019.2 195.7L1020.4 229.4L1021.7 280.1L1023 343.8L1028.1 630.9L1029.4 689.2L1030.7 736.4L1032 771.7L1033.2 795L1034.5 807.4L1035.8 810.5L1037.1 806.1L1038.4 796.4L1039.6 783.4L1043.5 740.3L1044.8 728.1L1046 717.8L1047.3 709.4L1048.6 702.7L1049.9 697.4L1051.2 693.4L1052.4 690.2L1053.7 687.7L1055 685.6L1058.8 680L1060.1 677.7L1061.4 675.1L1062.7 672L1065.2 664.8L1067.8 656.7L1070.4 648.1L1072.9 638.7L1075.5 627.9L1078 615.7L1080.6 602.1L1089.6 551.9L1093.4 528.9L1097.3 505.6L1098.5 498.5L1099.8 492.2L1101.1 486.6L1102.4 481.7L1103.7 477.5L1104.9 473.9L1106.2 470.9L1107.5 468.3L1108.8 466.2L1110.1 464.6L1111.3 463.5L1112.6 463.1L1113.9 463.3L1115.2 464.3L1116.5 465.8L1117.7 468L1119 470.8L1120.3 474L1121.6 477.6L1122.9 481.7L1124.1 486.3L1125.4 491.2L1128 502.4L1130.5 515.5L1133.1 530.2L1135.7 546.2L1144.6 604.2L1147.2 619.4L1149.7 633.4L1152.3 645.7L1154.9 656.5L1157.4 665.9L1160 674.3L1162.5 681.7L1165.1 688L1167.7 693.2L1168.9 695.5L1170.2 697.5L1171.5 699.2L1172.8 700.8L1174.1 702.2L1176.6 704.5L1179.2 706.3L1181.7 707.9L1184.3 709.2L1185.6 709.7L1186.9 710.1L1188.1 710.4L1189.4 710.4L1190.7 710.3L1193.3 709.9L1197.1 709.1L1200.9 708.4L1206.1 707L1207.3 706.9L1208.6 707L1213.7 707.6L1215 707.5L1216.3 707.2L1217.6 706.7L1222.7 704.3L1225.3 703.5L1226.6 703.2L1226.6 703.2" fill="none" stroke="#808080" stroke-width="0.9722" stroke-opacity="0.36" stroke-linecap="square" stroke-linejoin="round"/>
<path d="M906.5 702.7L907.8 702.1L909.1 701.3L910.3 700.1L911.6 698.4L912.9 696.5L915.5 691.8L918 686.4L919.3 683.4L920.6 680.1L921.9 676.4L923.1 672L924.4 667.1L925.7 661.6L928.3 649.2L930.8 635.6L934.7 614.1L939.8 584.9L942.3 572.2L943.6 566.7L944.9 562.1L946.2 558.4L947.5 555.6L948.7 554L950 553.5L951.3 554.1L952.6 555.7L953.9 558.3L955.1 561.9L956.4 566.3L957.7 571.4L960.3 583.4L962.8 597L965.4 611.7L970.5 642.3L973.1 655.9L974.3 662L975.6 667.5L978.2 677.1L980.8 685.2L985.9 700.4L987.2 705L988.4 710.3L989.7 716.7L991 724L993.6 741.5L996.1 759.4L997.4 766.3L998.7 770.1L1000 769.3L1001.2 762.1L1002.5 747.2L1003.8 723.1L1005.1 688.9L1006.4 644.6L1007.6 590.7L1010.2 462.5L1012.8 330.8L1014 275.2L1015.3 232.6L1016.6 207.1L1017.9 201.1L1019.2 215.4L1020.4 249.1L1021.7 299.4L1023 362.2L1028.1 640L1029.4 694.8L1030.7 738.5L1032 770.4L1033.2 790.9L1034.5 801.1L1035.8 802.5L1037.1 797.2L1038.4 787L1039.6 773.9L1042.2 745.5L1043.5 732.5L1044.8 721.3L1046 712.2L1047.3 705.1L1048.6 699.8L1049.9 695.8L1051.2 692.8L1053.7 688.1L1058.8 679.1L1062.7 672.2L1064 669.6L1065.2 666.6L1066.5 663.2L1067.8 659.2L1069.1 654.7L1071.6 644.5L1074.2 633.2L1078 615.2L1080.6 602.3L1083.2 588.4L1085.7 573.4L1093.4 526.5L1096 512.6L1098.5 500.4L1099.8 495.1L1101.1 490.2L1102.4 485.8L1103.7 481.9L1104.9 478.5L1106.2 475.6L1107.5 473.3L1108.8 471.5L1110.1 470.3L1111.3 469.7L1112.6 469.7L1113.9 470.4L1115.2 471.9L1116.5 474.2L1117.7 477.5L1119 481.6L1120.3 486.7L1121.6 492.5L1124.1 505.8L1128 527.9L1131.8 551.4L1135.7 576.8L1140.8 611.1L1143.3 626.5L1145.9 640.2L1148.5 652.8L1151 664.4L1153.6 674.8L1154.9 679.3L1156.1 683.4L1157.4 686.9L1160 692.9L1163.8 700.9L1166.4 705.9L1167.7 708.1L1168.9 710.1L1170.2 711.9L1171.5 713.4L1172.8 714.7L1174.1 715.8L1175.3 716.6L1176.6 717.3L1177.9 717.7L1179.2 717.8L1181.7 717.6L1184.3 717.5L1185.6 717.6L1190.7 718.6L1192 718.5L1193.3 718.1L1197.1 716.8L1198.4 716.5L1199.7 716.4L1202.2 716.6L1206.1 717L1208.6 717.3L1213.7 718.2L1215 718.2L1216.3 718L1217.6 717.6L1220.2 716.5L1222.7 715.3L1226.6 713.6L1226.6 713.6" fill="none" stroke="#808080" stroke-width="0.9722" stroke-opacity="0.36" stroke-linecap="square" stroke-linejoin="round"/>
<path d="M906.5 716.3L909.1 715.1L911.6 714L912.9 713.4L914.2 712.6L915.5 711.5L916.7 710.1L918 708.5L919.3 706.4L920.6 704L921.9 701.3L923.1 698.1L924.4 694.4L925.7 690.2L927 685.5L928.3 680.3L930.8 668.2L933.4 654.5L942.3 604L943.6 597.7L944.9 592L946.2 587.1L947.5 583.2L948.7 580.2L950 578.2L951.3 577.3L952.6 577.2L953.9 578L955.1 579.8L956.4 582.5L957.7 586.1L959 590.8L960.3 596.4L961.5 602.9L964.1 617.7L969.2 648.7L971.8 663.1L974.3 676.2L975.6 682.1L976.9 687.5L978.2 692.2L979.5 696.4L982 703.4L984.6 710.2L985.9 714.1L987.2 718.6L988.4 724L989.7 730.4L991 738L992.3 746.8L994.8 767.6L996.1 778.1L997.4 787L998.7 792.7L1000 793.2L1001.2 787L1002.5 772.7L1003.8 749L1005.1 715.4L1006.4 671.6L1007.6 618.4L1008.9 557.2L1012.8 356.6L1014 299L1015.3 254.3L1016.6 226.8L1017.9 219.4L1019.2 233.2L1020.4 267.2L1021.7 318.6L1023 382.9L1028.1 666.9L1029.4 722.5L1030.7 766.7L1032 798.8L1033.2 819.3L1034.5 829.2L1035.8 830.4L1037.1 824.8L1038.4 814.3L1039.6 800.9L1043.5 757.6L1044.8 745.3L1046 734.9L1047.3 726.6L1048.6 720.1L1049.9 715.3L1051.2 711.8L1052.4 709.2L1055 705.3L1057.6 701.2L1060.1 696.3L1062.7 690.6L1065.2 683.9L1066.5 680.1L1067.8 675.9L1070.4 666.3L1072.9 655.5L1075.5 644L1078 631.5L1080.6 617.8L1084.4 595.8L1089.6 564.9L1094.7 533.7L1097.3 520L1098.5 514L1099.8 508.7L1101.1 503.9L1102.4 499.8L1103.7 496.2L1104.9 493.2L1106.2 490.7L1107.5 488.6L1108.8 487.1L1110.1 486.1L1111.3 485.6L1112.6 485.7L1113.9 486.5L1115.2 487.9L1116.5 490.2L1117.7 493.3L1119 497.2L1120.3 501.8L1121.6 507.1L1124.1 519.1L1126.7 532.5L1129.3 546.9L1133.1 570L1139.5 608.6L1143.3 630.5L1145.9 644.2L1148.5 656.7L1151 667.7L1153.6 677L1156.1 684.9L1158.7 691.6L1161.3 697.4L1163.8 702.5L1165.1 704.7L1166.4 706.5L1167.7 707.9L1168.9 709L1170.2 709.8L1171.5 710.3L1180.5 712.6L1181.7 712.7L1183 712.6L1184.3 712.3L1186.9 711.2L1189.4 710.2L1190.7 709.9L1195.8 709.2L1197.1 708.8L1198.4 708.1L1203.5 704.8L1206.1 703.7L1208.6 702.6L1211.2 701.3L1218.9 696.7L1221.4 695.2L1222.7 694.3L1224 693.3L1225.3 692L1226.6 690.6L1226.6 690.6" fill="none" stroke="#808080" stroke-width="0.9722" stroke-opacity="0.36" stroke-linecap="square" stroke-linejoin="round"/>
<path d="M906.5 695.5L907.8 694.6L909.1 693.6L910.3 692.5L911.6 691.1L912.9 689.5L914.2 687.7L915.5 685.8L916.7 683.5L918 681.1L919.3 678.3L920.6 675L921.9 671.4L923.1 667.3L925.7 657.8L928.3 647L930.8 635L933.4 621.5L935.9 606.6L942.3 568L943.6 561.1L944.9 554.8L946.2 549.3L947.5 544.8L948.7 541.4L950 539.1L951.3 537.8L952.6 537.7L953.9 538.6L955.1 540.6L956.4 543.5L957.7 547.4L959 552.3L960.3 558L962.8 571.3L969.2 606.9L971.8 620.1L974.3 632.3L975.6 637.8L976.9 642.7L978.2 647.1L979.5 651.1L982 657.9L985.9 667.7L987.2 671.4L988.4 675.5L989.7 680.2L991 686L992.3 692.8L994.8 709.1L996.1 717.6L997.4 724.9L998.7 729.7L1000 730.2L1001.2 724.9L1002.5 712L1003.8 690.1L1005.1 658.1L1006.4 615.9L1007.6 563.8L1008.9 503.5L1012.8 305.6L1014 248.9L1015.3 205L1016.6 178L1017.9 170.5L1019.2 183.6L1020.4 216.3L1021.7 266L1023 328.5L1028.1 609.9L1029.4 666.8L1030.7 713.1L1032 748L1033.2 771.6L1034.5 784.9L1035.8 789.3L1037.1 786.4L1038.4 777.9L1039.6 765.7L1044.8 708.6L1046 697.1L1047.3 687.4L1048.6 679.7L1049.9 673.6L1051.2 668.9L1052.4 665.3L1053.7 662.5L1055 660.1L1060.1 651.5L1062.7 646.4L1065.2 640.6L1066.5 637.4L1067.8 633.8L1069.1 629.8L1070.4 625.3L1071.6 620.3L1074.2 608.6L1079.3 583L1084.4 556.8L1087 542.7L1089.6 527.6L1094.7 495.5L1097.3 479.8L1099.8 465.7L1101.1 459.4L1102.4 453.8L1103.7 448.8L1104.9 444.4L1106.2 440.7L1107.5 437.5L1108.8 434.9L1110.1 432.9L1111.3 431.4L1112.6 430.6L1113.9 430.4L1115.2 430.9L1116.5 432.1L1117.7 434L1119 436.6L1120.3 439.9L1121.6 443.8L1122.9 448.2L1124.1 453.1L1126.7 464.2L1129.3 477L1131.8 491L1136.9 521.1L1145.9 574.5L1148.5 587.8L1151 599.9L1154.9 616.9L1157.4 627L1160 635.6L1162.5 642.8L1165.1 648.9L1167.7 654.1L1170.2 658.6L1171.5 660.5L1172.8 662.2L1174.1 663.6L1175.3 664.7L1176.6 665.6L1179.2 667.1L1183 668.8L1185.6 669.9L1188.1 670.8L1192 671.9L1194.5 672.4L1195.8 672.4L1198.4 672.2L1200.9 671.9L1202.2 671.9L1204.8 672.2L1208.6 672.9L1213.7 673.4L1216.3 673.6L1217.6 673.5L1220.2 673L1226.6 671.4L1226.6 671.4" fill="none" stroke="#808080" stroke-width="0.9722" stroke-opacity="0.36" stroke-linecap="square" stroke-linejoin="round"/>
<path d="M906.5 670.6L909.1 669.7L910.3 669L911.6 668.1L912.9 667L914.2 665.8L915.5 664.3L916.7 662.5L918 660.4L919.3 657.9L920.6 654.8L921.9 651.2L923.1 647L924.4 642.1L927 630.8L929.5 618L932.1 604L935.9 581.2L938.5 566.1L939.8 559.2L941.1 552.9L942.3 547.4L943.6 542.7L944.9 539.1L946.2 536.5L947.5 534.9L948.7 534.5L950 535.1L951.3 536.7L952.6 539.2L953.9 542.3L955.1 545.9L956.4 550.1L957.7 554.8L959 560.2L960.3 566.2L961.5 573.1L964.1 588.8L969.2 622.7L971.8 637.7L974.3 650.8L976.9 662.2L979.5 671.8L982 680.1L984.6 688.1L985.9 692.5L987.2 697.4L988.4 703.1L989.7 709.7L991 717.3L993.6 735.1L996.1 752.8L997.4 759.4L998.7 762.9L1000 761.7L1001.2 754.3L1002.5 739.4L1003.8 715.5L1005.1 682L1006.4 638.5L1007.6 585.7L1010.2 459.6L1012.8 329.5L1014 274.2L1015.3 231.9L1016.6 206.3L1017.9 200.1L1019.2 214L1020.4 247.3L1021.7 297.4L1023 360.4L1028.1 648.2L1029.4 708.2L1030.7 757.9L1032 796.2L1033.2 822.9L1034.5 838.7L1035.8 845L1037.1 843.3L1038.4 835.6L1039.6 824L1044.8 770L1046 759.3L1047.3 750.3L1048.6 743.1L1049.9 737.3L1051.2 732.8L1052.4 729.2L1053.7 726.5L1055 724.2L1057.6 720.5L1060.1 716.8L1062.7 712.7L1065.2 708L1067.8 702.6L1069.1 699.6L1070.4 696.2L1071.6 692.6L1072.9 688.5L1075.5 679.2L1078 668.6L1081.9 651.3L1085.7 632.8L1099.8 562.5L1102.4 551L1103.7 545.8L1104.9 541.3L1106.2 537.4L1107.5 534.1L1108.8 531.4L1110.1 529.3L1111.3 527.8L1112.6 526.9L1113.9 526.5L1115.2 526.8L1116.5 527.7L1117.7 529.3L1119 531.6L1120.3 534.5L1121.6 538.2L1122.9 542.4L1124.1 547.3L1125.4 552.7L1126.7 558.7L1129.3 572.2L1131.8 587.6L1135.7 612.8L1143.3 663.9L1147.2 688L1149.7 703.2L1152.3 717.3L1154.9 730L1157.4 741.1L1160 750.7L1162.5 759.2L1165.1 766.6L1167.7 773.2L1170.2 778.9L1172.8 784L1174.1 786.3L1175.3 788.2L1176.6 789.9L1177.9 791.3L1179.2 792.5L1181.7 794.5L1186.9 798L1188.1 798.7L1189.4 799.2L1190.7 799.5L1199.7 800.6L1200.9 800.5L1202.2 800.2L1203.5 799.7L1207.3 797.6L1208.6 797.1L1209.9 796.7L1211.2 796.6L1212.5 796.7L1215 797.2L1217.6 797.8L1218.9 797.8L1220.2 797.6L1221.4 797.1L1222.7 796.3L1225.3 794.3L1226.6 793.2L1226.6 793.2" fill="none" stroke="#808080" stroke-width="0.9722" stroke-opacity="0.36" stroke-linecap="square" stroke-linejoin="round"/>
<path d="M906.5 787.2L907.8 786.1L909.1 785L910.3 783.6L911.6 782L912.9 780L914.2 777.8L915.5 775.3L916.7 772.4L918 769.2L919.3 765.7L920.6 761.7L921.9 757.3L923.1 752.3L924.4 746.9L925.7 740.9L928.3 727.1L930.8 711.4L937.2 669.9L939.8 655.4L941.1 649.1L942.3 643.4L943.6 638.5L944.9 634.4L946.2 631L947.5 628.4L948.7 626.6L950 625.7L951.3 625.8L952.6 627L953.9 629.3L955.1 632.9L956.4 637.6L957.7 643.4L960.3 657.1L965.4 686.5L967.9 699.9L970.5 712.5L973.1 724L974.3 729.3L975.6 734.1L976.9 738.3L978.2 741.9L979.5 745L982 750L984.6 755L985.9 758.1L987.2 761.8L988.4 766.4L989.7 771.8L991 778L996.1 805.7L997.4 810L998.7 811.2L1000 807.6L1001.2 797.7L1002.5 779.9L1003.8 752.9L1005.1 715.7L1006.4 668.3L1007.6 611.5L1010.2 477.7L1012.8 341.4L1014 283.7L1015.3 239.4L1016.6 212.2L1017.9 204.7L1019.2 217.6L1020.4 250L1021.7 299.1L1023 361.1L1028.1 640.2L1029.4 696.6L1030.7 742.3L1032 776.3L1033.2 798.8L1034.5 810.6L1035.8 813.3L1037.1 808.6L1038.4 798.4L1039.6 784.7L1043.5 738L1044.8 724.2L1046 712.2L1047.3 702.2L1048.6 694L1049.9 687.4L1051.2 682.1L1052.4 677.7L1055 669.9L1060.1 654.4L1064 642.6L1066.5 633.7L1067.8 628.6L1069.1 623L1071.6 610.3L1074.2 596.2L1078 573.3L1081.9 548.5L1085.7 522L1092.1 475.4L1096 448.4L1098.5 431.9L1101.1 416.6L1103.7 402.9L1104.9 396.7L1106.2 391.2L1107.5 386.4L1108.8 382.3L1110.1 378.9L1111.3 376.1L1112.6 374L1113.9 372.3L1115.2 371.2L1116.5 370.6L1117.7 370.6L1119 371.2L1120.3 372.4L1121.6 374.5L1122.9 377.3L1124.1 380.9L1125.4 385.4L1126.7 390.4L1129.3 402.1L1134.4 427.4L1139.5 453.6L1144.6 480.5L1147.2 492.9L1149.7 504L1152.3 514L1154.9 522.7L1157.4 530.3L1160 536.8L1162.5 542.4L1165.1 547.2L1166.4 549.2L1167.7 551L1170.2 554L1172.8 556.5L1174.1 557.4L1175.3 558.2L1176.6 558.8L1177.9 559L1179.2 559L1181.7 558.6L1185.6 557.9L1192 557.3L1194.5 557.2L1197.1 557.5L1199.7 558.1L1211.2 561.2L1213.7 562.1L1216.3 563.3L1221.4 565.9L1224 566.9L1226.6 567.9L1226.6 567.9" fill="none" stroke="#808080" stroke-width="0.9722" stroke-opacity="0.36" stroke-linecap="square" stroke-linejoin="round"/>
<path d="M890.5 880.5L890.5 110.5" fill="none" stroke="#000000" stroke-width="1.111" stroke-linecap="square"/>
<path d="M1243.5 880.5L1243.5 110.5" fill="none" stroke="#000000" stroke-width="1.111" stroke-linecap="square"/>
<path d="M890.5 880.5L1243.5 880.5" fill="none" stroke="#000000" stroke-width="1.111" stroke-linecap="square"/>
<path d="M890.5 110.5L1243.5 110.5" fill="none" stroke="#000000" stroke-width="1.111" stroke-linecap="square"/>
<path d="M948 560.5L956.3 560.5M952.2 564.7L952.2 556.4" fill="#3949ab" stroke="#3949ab" stroke-width="2.083" stroke-linejoin="round"/>
<path d="M945.9 520.8L954.2 520.8M950 525L950 516.6" fill="#3949ab" stroke="#3949ab" stroke-width="2.083" stroke-linejoin="round"/>
<path d="M947.1 579.8L955.5 579.8M951.3 584L951.3 575.6" fill="#3949ab" stroke="#3949ab" stroke-width="2.083" stroke-linejoin="round"/>
<path d="M947.1 548.5L955.5 548.5M951.3 552.6L951.3 544.3" fill="#3949ab" stroke="#3949ab" stroke-width="2.083" stroke-linejoin="round"/>
<path d="M946.7 555.4L955 555.4M950.9 559.6L950.9 551.2" fill="#3949ab" stroke="#3949ab" stroke-width="2.083" stroke-linejoin="round"/>
<path d="M947.1 559.1L955.5 559.1M951.3 563.2L951.3 554.9" fill="#3949ab" stroke="#3949ab" stroke-width="2.083" stroke-linejoin="round"/>
<path d="M947.1 555.2L955.5 555.2M951.3 559.4L951.3 551" fill="#3949ab" stroke="#3949ab" stroke-width="2.083" stroke-linejoin="round"/>
<path d="M947.6 549.4L955.9 549.4M951.7 553.6L951.7 545.3" fill="#3949ab" stroke="#3949ab" stroke-width="2.083" stroke-linejoin="round"/>
<path d="M945.9 554.7L954.2 554.7M950 558.8L950 550.5" fill="#3949ab" stroke="#3949ab" stroke-width="2.083" stroke-linejoin="round"/>
<path d="M946.7 555.9L955 555.9M950.9 560L950.9 551.7" fill="#3949ab" stroke="#3949ab" stroke-width="2.083" stroke-linejoin="round"/>
<path d="M948 558.8L956.3 558.8M952.2 562.9L952.2 554.6" fill="#3949ab" stroke="#3949ab" stroke-width="2.083" stroke-linejoin="round"/>
<path d="M948.4 554.2L956.8 554.2M952.6 558.3L952.6 550" fill="#3949ab" stroke="#3949ab" stroke-width="2.083" stroke-linejoin="round"/>
<path d="M946.7 552.1L955 552.1M950.9 556.3L950.9 547.9" fill="#3949ab" stroke="#3949ab" stroke-width="2.083" stroke-linejoin="round"/>
<path d="M946.3 551.2L954.6 551.2M950.5 555.4L950.5 547" fill="#3949ab" stroke="#3949ab" stroke-width="2.083" stroke-linejoin="round"/>
<path d="M946.3 553.5L954.6 553.5M950.5 557.7L950.5 549.3" fill="#3949ab" stroke="#3949ab" stroke-width="2.083" stroke-linejoin="round"/>
<path d="M948.4 577.1L956.8 577.1M952.6 581.3L952.6 572.9" fill="#3949ab" stroke="#3949ab" stroke-width="2.083" stroke-linejoin="round"/>
<path d="M948.4 537.6L956.8 537.6M952.6 541.8L952.6 533.5" fill="#3949ab" stroke="#3949ab" stroke-width="2.083" stroke-linejoin="round"/>
<path d="M945 534.5L953.3 534.5M949.2 538.7L949.2 530.3" fill="#3949ab" stroke="#3949ab" stroke-width="2.083" stroke-linejoin="round"/>
<path d="M946.7 625.6L955 625.6M950.9 629.8L950.9 621.4" fill="#3949ab" stroke="#3949ab" stroke-width="2.083" stroke-linejoin="round"/>
<path d="M995.8 730.1L1004.1 730.1M1000 734.3L1000 726" fill="#1e88e5" stroke="#1e88e5" stroke-width="2.083" stroke-linejoin="round"/>
<path d="M995.8 751L1004.1 751M1000 755.1L1000 746.8" fill="#1e88e5" stroke="#1e88e5" stroke-width="2.083" stroke-linejoin="round"/>
<path d="M995.8 793.4L1004.1 793.4M1000 797.5L1000 789.2" fill="#1e88e5" stroke="#1e88e5" stroke-width="2.083" stroke-linejoin="round"/>
<path d="M995.8 754.6L1004.1 754.6M1000 758.7L1000 750.4" fill="#1e88e5" stroke="#1e88e5" stroke-width="2.083" stroke-linejoin="round"/>
<path d="M995.8 769.9L1004.1 769.9M1000 774.1L1000 765.7" fill="#1e88e5" stroke="#1e88e5" stroke-width="2.083" stroke-linejoin="round"/>
<path d="M996.2 766.2L1004.5 766.2M1000.4 770.4L1000.4 762" fill="#1e88e5" stroke="#1e88e5" stroke-width="2.083" stroke-linejoin="round"/>
<path d="M995.8 765.8L1004.1 765.8M1000 770L1000 761.7" fill="#1e88e5" stroke="#1e88e5" stroke-width="2.083" stroke-linejoin="round"/>
<path d="M995.8 761.5L1004.1 761.5M1000 765.7L1000 757.4" fill="#1e88e5" stroke="#1e88e5" stroke-width="2.083" stroke-linejoin="round"/>
<path d="M995.8 768.1L1004.1 768.1M1000 772.2L1000 763.9" fill="#1e88e5" stroke="#1e88e5" stroke-width="2.083" stroke-linejoin="round"/>
<path d="M995.8 766.7L1004.1 766.7M1000 770.9L1000 762.6" fill="#1e88e5" stroke="#1e88e5" stroke-width="2.083" stroke-linejoin="round"/>
<path d="M996.2 764.4L1004.5 764.4M1000.4 768.5L1000.4 760.2" fill="#1e88e5" stroke="#1e88e5" stroke-width="2.083" stroke-linejoin="round"/>
<path d="M996.2 756.6L1004.5 756.6M1000.4 760.8L1000.4 752.4" fill="#1e88e5" stroke="#1e88e5" stroke-width="2.083" stroke-linejoin="round"/>
<path d="M995.8 766.7L1004.1 766.7M1000 770.9L1000 762.6" fill="#1e88e5" stroke="#1e88e5" stroke-width="2.083" stroke-linejoin="round"/>
<path d="M995.4 767.2L1003.7 767.2M999.5 771.4L999.5 763.1" fill="#1e88e5" stroke="#1e88e5" stroke-width="2.083" stroke-linejoin="round"/>
<path d="M995.8 770.4L1004.1 770.4M1000 774.6L1000 766.3" fill="#1e88e5" stroke="#1e88e5" stroke-width="2.083" stroke-linejoin="round"/>
<path d="M996.2 793.7L1004.5 793.7M1000.4 797.9L1000.4 789.5" fill="#1e88e5" stroke="#1e88e5" stroke-width="2.083" stroke-linejoin="round"/>
<path d="M996.2 730.6L1004.5 730.6M1000.4 734.8L1000.4 726.5" fill="#1e88e5" stroke="#1e88e5" stroke-width="2.083" stroke-linejoin="round"/>
<path d="M995.8 763.1L1004.1 763.1M1000 767.2L1000 758.9" fill="#1e88e5" stroke="#1e88e5" stroke-width="2.083" stroke-linejoin="round"/>
<path d="M994.9 811.2L1003.3 811.2M999.1 815.4L999.1 807.1" fill="#1e88e5" stroke="#1e88e5" stroke-width="2.083" stroke-linejoin="round"/>
<path d="M1032.7 758.3L1041 758.3M1036.9 762.4L1036.9 754.1" fill="#039be5" stroke="#039be5" stroke-width="2.083" stroke-linejoin="round"/>
<path d="M1032.7 806.6L1041 806.6M1036.9 810.8L1036.9 802.4" fill="#039be5" stroke="#039be5" stroke-width="2.083" stroke-linejoin="round"/>
<path d="M1032.3 831.3L1040.6 831.3M1036.4 835.5L1036.4 827.2" fill="#039be5" stroke="#039be5" stroke-width="2.083" stroke-linejoin="round"/>
<path d="M1032.7 805.4L1041 805.4M1036.9 809.6L1036.9 801.2" fill="#039be5" stroke="#039be5" stroke-width="2.083" stroke-linejoin="round"/>
<path d="M1032.3 809.8L1040.6 809.8M1036.4 814L1036.4 805.6" fill="#039be5" stroke="#039be5" stroke-width="2.083" stroke-linejoin="round"/>
<path d="M1032.7 815.3L1041 815.3M1036.9 819.5L1036.9 811.1" fill="#039be5" stroke="#039be5" stroke-width="2.083" stroke-linejoin="round"/>
<path d="M1032.7 820.2L1041 820.2M1036.9 824.4L1036.9 816.1" fill="#039be5" stroke="#039be5" stroke-width="2.083" stroke-linejoin="round"/>
<path d="M1032.7 816.6L1041 816.6M1036.9 820.7L1036.9 812.4" fill="#039be5" stroke="#039be5" stroke-width="2.083" stroke-linejoin="round"/>
<path d="M1032.7 811.7L1041 811.7M1036.9 815.8L1036.9 807.5" fill="#039be5" stroke="#039be5" stroke-width="2.083" stroke-linejoin="round"/>
<path d="M1032.3 806.8L1040.6 806.8M1036.4 810.9L1036.4 802.6" fill="#039be5" stroke="#039be5" stroke-width="2.083" stroke-linejoin="round"/>
<path d="M1032.3 811.2L1040.6 811.2M1036.4 815.4L1036.4 807.1" fill="#039be5" stroke="#039be5" stroke-width="2.083" stroke-linejoin="round"/>
<path d="M1032.7 820.6L1041 820.6M1036.9 824.7L1036.9 816.4" fill="#039be5" stroke="#039be5" stroke-width="2.083" stroke-linejoin="round"/>
<path d="M1032.7 827.1L1041 827.1M1036.9 831.3L1036.9 822.9" fill="#039be5" stroke="#039be5" stroke-width="2.083" stroke-linejoin="round"/>
<path d="M1032.7 810.5L1041 810.5M1036.9 814.7L1036.9 806.3" fill="#039be5" stroke="#039be5" stroke-width="2.083" stroke-linejoin="round"/>
<path d="M1032.3 802.9L1040.6 802.9M1036.4 807.1L1036.4 798.7" fill="#039be5" stroke="#039be5" stroke-width="2.083" stroke-linejoin="round"/>
<path d="M1032.3 830.9L1040.6 830.9M1036.4 835L1036.4 826.7" fill="#039be5" stroke="#039be5" stroke-width="2.083" stroke-linejoin="round"/>
<path d="M1032.7 789.3L1041 789.3M1036.9 793.5L1036.9 785.1" fill="#039be5" stroke="#039be5" stroke-width="2.083" stroke-linejoin="round"/>
<path d="M1033.1 845.2L1041.5 845.2M1037.3 849.4L1037.3 841" fill="#039be5" stroke="#039be5" stroke-width="2.083" stroke-linejoin="round"/>
<path d="M1032.3 813.3L1040.6 813.3M1036.4 817.5L1036.4 809.2" fill="#039be5" stroke="#039be5" stroke-width="2.083" stroke-linejoin="round"/>
<path d="M1109.7 396.3L1118.1 396.3M1113.9 400.5L1113.9 392.1" fill="#00acc1" stroke="#00acc1" stroke-width="2.083" stroke-linejoin="round"/>
<path d="M1108.4 480.8L1116.8 480.8M1112.6 485L1112.6 476.7" fill="#00acc1" stroke="#00acc1" stroke-width="2.083" stroke-linejoin="round"/>
<path d="M1108.4 475.5L1116.8 475.5M1112.6 479.7L1112.6 471.4" fill="#00acc1" stroke="#00acc1" stroke-width="2.083" stroke-linejoin="round"/>
<path d="M1108.9 462.2L1117.2 462.2M1113 466.4L1113 458.1" fill="#00acc1" stroke="#00acc1" stroke-width="2.083" stroke-linejoin="round"/>
<path d="M1107.6 472.3L1115.9 472.3M1111.8 476.4L1111.8 468.1" fill="#00acc1" stroke="#00acc1" stroke-width="2.083" stroke-linejoin="round"/>
<path d="M1109.3 471.3L1117.6 471.3M1113.5 475.5L1113.5 467.1" fill="#00acc1" stroke="#00acc1" stroke-width="2.083" stroke-linejoin="round"/>
<path d="M1108.9 467.9L1117.2 467.9M1113 472.1L1113 463.7" fill="#00acc1" stroke="#00acc1" stroke-width="2.083" stroke-linejoin="round"/>
<path d="M1110.6 472.2L1118.9 472.2M1114.7 476.3L1114.7 468" fill="#00acc1" stroke="#00acc1" stroke-width="2.083" stroke-linejoin="round"/>
<path d="M1109.3 470.7L1117.6 470.7M1113.5 474.9L1113.5 466.5" fill="#00acc1" stroke="#00acc1" stroke-width="2.083" stroke-linejoin="round"/>
<path d="M1107.6 468.8L1115.9 468.8M1111.8 472.9L1111.8 464.6" fill="#00acc1" stroke="#00acc1" stroke-width="2.083" stroke-linejoin="round"/>
<path d="M1106.7 470.7L1115.1 470.7M1110.9 474.9L1110.9 466.5" fill="#00acc1" stroke="#00acc1" stroke-width="2.083" stroke-linejoin="round"/>
<path d="M1109.3 469.4L1117.6 469.4M1113.5 473.6L1113.5 465.2" fill="#00acc1" stroke="#00acc1" stroke-width="2.083" stroke-linejoin="round"/>
<path d="M1111.4 469L1119.8 469M1115.6 473.2L1115.6 464.8" fill="#00acc1" stroke="#00acc1" stroke-width="2.083" stroke-linejoin="round"/>
<path d="M1108.9 463.1L1117.2 463.1M1113 467.3L1113 458.9" fill="#00acc1" stroke="#00acc1" stroke-width="2.083" stroke-linejoin="round"/>
<path d="M1108 469.6L1116.4 469.6M1112.2 473.8L1112.2 465.5" fill="#00acc1" stroke="#00acc1" stroke-width="2.083" stroke-linejoin="round"/>
<path d="M1108 485.6L1116.4 485.6M1112.2 489.7L1112.2 481.4" fill="#00acc1" stroke="#00acc1" stroke-width="2.083" stroke-linejoin="round"/>
<path d="M1109.7 430.4L1118.1 430.4M1113.9 434.6L1113.9 426.2" fill="#00acc1" stroke="#00acc1" stroke-width="2.083" stroke-linejoin="round"/>
<path d="M1110.2 526.5L1118.5 526.5M1114.3 530.7L1114.3 522.3" fill="#00acc1" stroke="#00acc1" stroke-width="2.083" stroke-linejoin="round"/>
<path d="M1113.6 370.5L1121.9 370.5M1117.7 374.7L1117.7 366.4" fill="#00acc1" stroke="#00acc1" stroke-width="2.083" stroke-linejoin="round"/>
<text x="1066.5" y="101.7" font-size="20" text-anchor="middle">Individual Heart Beats (average heart rate: 79.9 bpm)</text>
<path d="M1011.4 255L1231 255Q1234.3 255 1234.3 251.7L1234.3 121.7Q1234.3 118.3 1231 118.3L1011.4 118.3Q1008.1 118.3 1008.1 121.7L1008.1 251.7Q1008.1 255 1011.4 255Z" fill="#ffffff" fill-opacity="0.8" stroke="#cccccc" stroke-width="1.389" stroke-opacity="0.8"/>
<path d="M1015 133L1031 133L1048 133" fill="none" stroke="#f44336" stroke-width="9.722" stroke-linecap="square" stroke-linejoin="round"/>
<text font-size="16.67" transform="translate(1061.4 139) scale(1 1.08)">Average beat shape</text>
<path d="M1027.2 161L1035.6 161M1031.4 165.1L1031.4 156.8" fill="#3949ab" stroke="#3949ab" stroke-width="2.083" stroke-linejoin="round"/>
<text font-size="16.67" transform="translate(1061.4 165.3) scale(1 1.08)">P-waves</text>
<path d="M1027.2 187.3L1035.6 187.3M1031.4 191.5L1031.4 183.1" fill="#1e88e5" stroke="#1e88e5" stroke-width="2.083" stroke-linejoin="round"/>
<text font-size="16.67" transform="translate(1061.4 191.7) scale(1 1.08)">Q-waves</text>
<path d="M1027.2 213.6L1035.6 213.6M1031.4 217.8L1031.4 209.5" fill="#039be5" stroke="#039be5" stroke-width="2.083" stroke-linejoin="round"/>
<text font-size="16.67" transform="translate(1061.4 218) scale(1 1.08)">S-waves</text>
<path d="M1027.2 240L1035.6 240M1031.4 244.1L1031.4 235.8" fill="#00acc1" stroke="#00acc1" stroke-width="2.083" stroke-linejoin="round"/>
<text font-size="16.67" transform="translate(1061.4 244.3) scale(1 1.08)">T-waves</text>
<text x="642.6" y="25" font-size="20" text-anchor="middle" font-weight="bold">Electrocardiogram (ECG)</text>
</svg>
</body></html>
